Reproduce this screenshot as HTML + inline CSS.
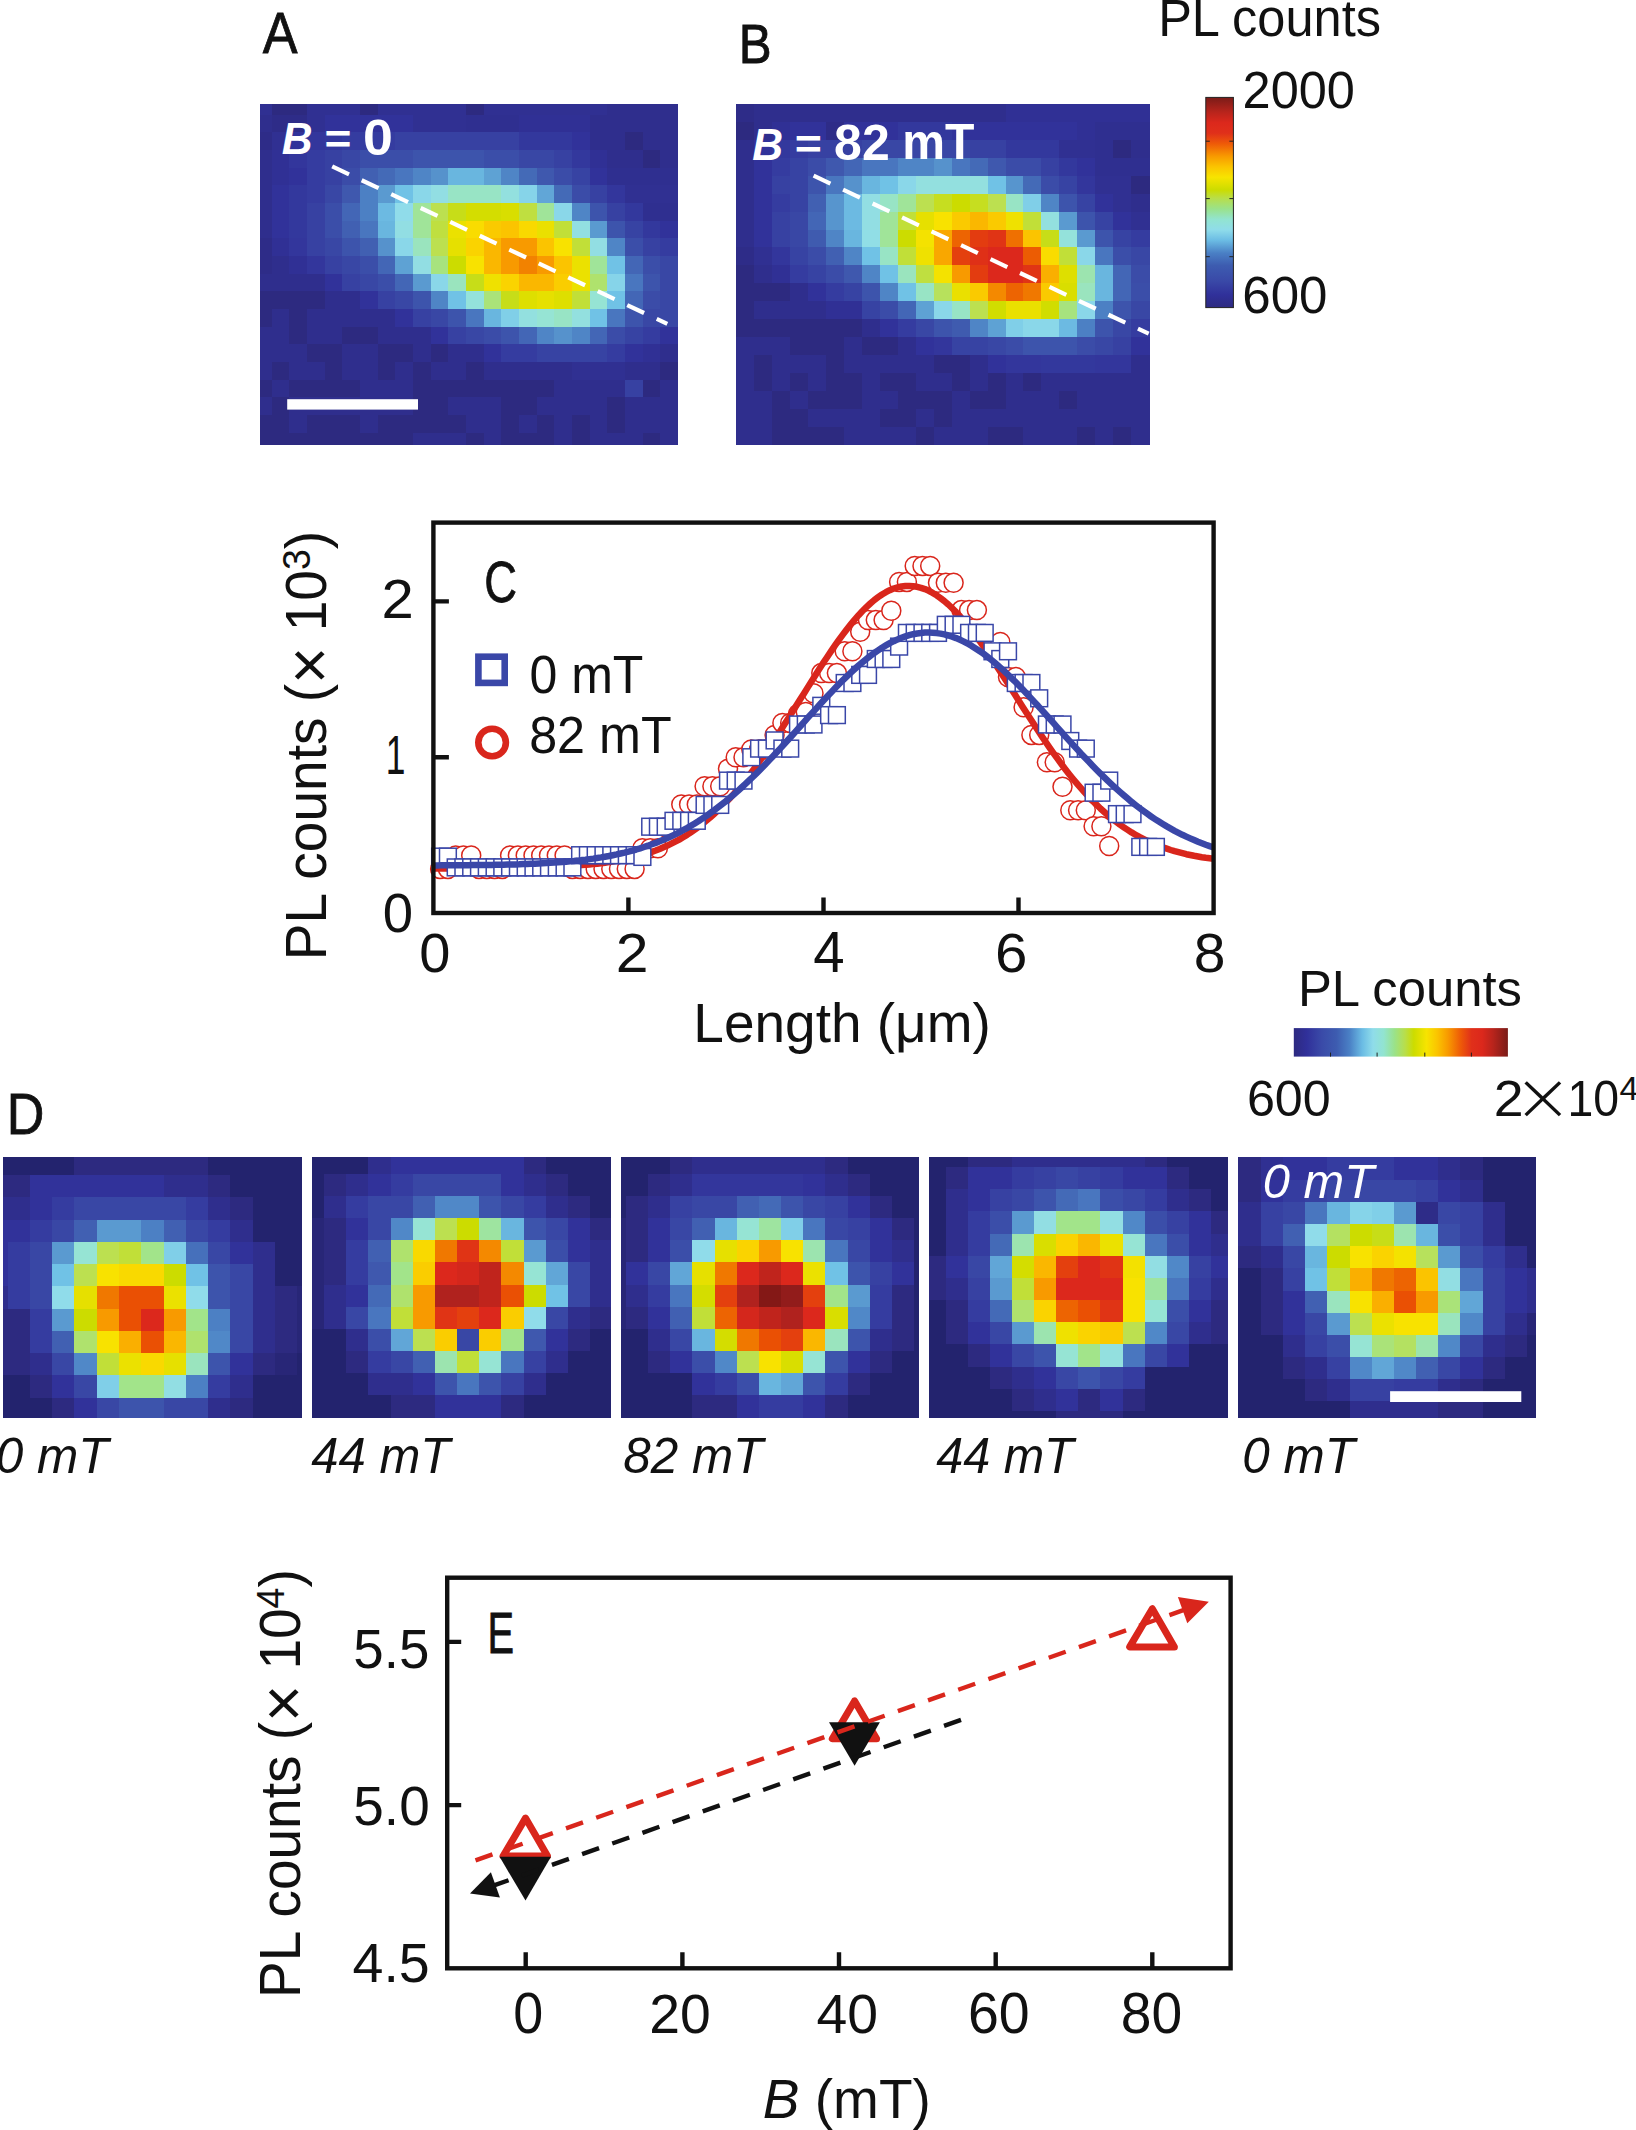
<!DOCTYPE html>
<html lang="en"><head><meta charset="utf-8"><title>Figure</title>
<style>html,body{margin:0;padding:0;background:#fff}svg{display:block}</style></head>
<body>
<svg width="1636" height="2130" viewBox="0 0 1636 2130" font-family="Liberation Sans, Arial, Helvetica, sans-serif">
<text transform="translate(262.80 52.92) scale(0.9228 1)" font-size="56.55" fill="#111111" stroke="#111111" stroke-width="0.8">A</text>
<text transform="translate(738.85 62.70) scale(0.8775 1)" font-size="56.23" fill="#111111" stroke="#111111" stroke-width="0.8">B</text>
<text transform="translate(6.63 1133.50) scale(0.9147 1)" font-size="56.96" fill="#111111" stroke="#111111" stroke-width="0.8">D</text>
<g shape-rendering="crispEdges">
<rect x="259.7" y="104.0" width="418.3" height="340.7" fill="#2d2a80"/>
<rect x="259.7" y="104.0" width="12.1" height="11.0" fill="#303092"/>
<rect x="271.5" y="104.0" width="35.6" height="11.0" fill="#2d2a80"/>
<rect x="306.8" y="104.0" width="53.3" height="11.0" fill="#303092"/>
<rect x="359.9" y="104.0" width="18.0" height="11.0" fill="#2d2a80"/>
<rect x="377.5" y="104.0" width="88.7" height="11.0" fill="#303092"/>
<rect x="465.9" y="104.0" width="18.0" height="11.0" fill="#2d2a80"/>
<rect x="483.5" y="104.0" width="124.0" height="11.0" fill="#303092"/>
<rect x="607.2" y="104.0" width="71.1" height="11.0" fill="#2f2e8d"/>
<rect x="259.7" y="114.7" width="12.1" height="18.0" fill="#2f2e8d"/>
<rect x="271.5" y="114.7" width="35.6" height="18.0" fill="#2e2c88"/>
<rect x="306.8" y="114.7" width="18.0" height="18.0" fill="#303092"/>
<rect x="324.5" y="114.7" width="88.7" height="18.0" fill="#31329a"/>
<rect x="412.9" y="114.7" width="53.3" height="18.0" fill="#303092"/>
<rect x="465.9" y="114.7" width="53.3" height="18.0" fill="#2f2f90"/>
<rect x="518.9" y="114.7" width="71.0" height="18.0" fill="#303095"/>
<rect x="589.6" y="114.7" width="88.7" height="18.0" fill="#2f2e8d"/>
<rect x="259.7" y="132.4" width="12.1" height="18.0" fill="#2e2c88"/>
<rect x="271.5" y="132.4" width="18.0" height="18.0" fill="#303092"/>
<rect x="289.2" y="132.4" width="18.0" height="18.0" fill="#31329a"/>
<rect x="306.8" y="132.4" width="18.0" height="18.0" fill="#33369c"/>
<rect x="324.5" y="132.4" width="18.0" height="18.0" fill="#33389d"/>
<rect x="342.2" y="132.4" width="53.3" height="18.0" fill="#353ca0"/>
<rect x="395.2" y="132.4" width="124.0" height="18.0" fill="#3741a2"/>
<rect x="518.9" y="132.4" width="53.3" height="18.0" fill="#33389d"/>
<rect x="571.9" y="132.4" width="18.0" height="18.0" fill="#31329a"/>
<rect x="589.6" y="132.4" width="35.6" height="18.0" fill="#2f2e8d"/>
<rect x="624.9" y="132.4" width="18.0" height="18.0" fill="#2d2a80"/>
<rect x="642.6" y="132.4" width="35.7" height="18.0" fill="#2f2e8d"/>
<rect x="259.7" y="150.0" width="12.1" height="18.0" fill="#2f2e8d"/>
<rect x="271.5" y="150.0" width="18.0" height="18.0" fill="#303095"/>
<rect x="289.2" y="150.0" width="18.0" height="18.0" fill="#33369c"/>
<rect x="306.8" y="150.0" width="18.0" height="18.0" fill="#353ca0"/>
<rect x="324.5" y="150.0" width="18.0" height="18.0" fill="#3741a2"/>
<rect x="342.2" y="150.0" width="18.0" height="18.0" fill="#3947a5"/>
<rect x="359.9" y="150.0" width="53.3" height="18.0" fill="#3b4ea9"/>
<rect x="412.9" y="150.0" width="71.0" height="18.0" fill="#3d54ac"/>
<rect x="483.5" y="150.0" width="35.6" height="18.0" fill="#3b4ea9"/>
<rect x="518.9" y="150.0" width="35.6" height="18.0" fill="#3947a5"/>
<rect x="554.2" y="150.0" width="18.0" height="18.0" fill="#3741a2"/>
<rect x="571.9" y="150.0" width="18.0" height="18.0" fill="#33389d"/>
<rect x="589.6" y="150.0" width="18.0" height="18.0" fill="#303095"/>
<rect x="607.2" y="150.0" width="35.6" height="18.0" fill="#2f2e8d"/>
<rect x="642.6" y="150.0" width="18.0" height="18.0" fill="#2d2a80"/>
<rect x="660.2" y="150.0" width="18.1" height="18.0" fill="#2f2e8d"/>
<rect x="259.7" y="167.7" width="12.1" height="18.0" fill="#2f2e8d"/>
<rect x="271.5" y="167.7" width="18.0" height="18.0" fill="#303095"/>
<rect x="289.2" y="167.7" width="18.0" height="18.0" fill="#31329a"/>
<rect x="306.8" y="167.7" width="18.0" height="18.0" fill="#353ca0"/>
<rect x="324.5" y="167.7" width="18.0" height="18.0" fill="#3741a2"/>
<rect x="342.2" y="167.7" width="18.0" height="18.0" fill="#3b4ca8"/>
<rect x="359.9" y="167.7" width="18.0" height="18.0" fill="#4160b2"/>
<rect x="377.5" y="167.7" width="18.0" height="18.0" fill="#446ab7"/>
<rect x="395.2" y="167.7" width="18.0" height="18.0" fill="#4976bf"/>
<rect x="412.9" y="167.7" width="18.0" height="18.0" fill="#4f85c6"/>
<rect x="430.5" y="167.7" width="18.0" height="18.0" fill="#5692cc"/>
<rect x="448.2" y="167.7" width="35.6" height="18.0" fill="#69b6df"/>
<rect x="483.5" y="167.7" width="18.0" height="18.0" fill="#5ea2d4"/>
<rect x="501.2" y="167.7" width="18.0" height="18.0" fill="#4f85c6"/>
<rect x="518.9" y="167.7" width="18.0" height="18.0" fill="#446ab7"/>
<rect x="536.6" y="167.7" width="18.0" height="18.0" fill="#3f58ae"/>
<rect x="554.2" y="167.7" width="18.0" height="18.0" fill="#3b4ca8"/>
<rect x="571.9" y="167.7" width="18.0" height="18.0" fill="#3743a3"/>
<rect x="589.6" y="167.7" width="18.0" height="18.0" fill="#31329a"/>
<rect x="607.2" y="167.7" width="71.1" height="18.0" fill="#2f2f90"/>
<rect x="259.7" y="185.4" width="12.1" height="18.0" fill="#2f2e8d"/>
<rect x="271.5" y="185.4" width="18.0" height="18.0" fill="#31329a"/>
<rect x="289.2" y="185.4" width="18.0" height="18.0" fill="#33389d"/>
<rect x="306.8" y="185.4" width="18.0" height="18.0" fill="#353ca0"/>
<rect x="324.5" y="185.4" width="18.0" height="18.0" fill="#3947a5"/>
<rect x="342.2" y="185.4" width="18.0" height="18.0" fill="#3f58ae"/>
<rect x="359.9" y="185.4" width="18.0" height="18.0" fill="#4c80c4"/>
<rect x="377.5" y="185.4" width="18.0" height="18.0" fill="#5a9ad0"/>
<rect x="395.2" y="185.4" width="18.0" height="18.0" fill="#70c2e6"/>
<rect x="412.9" y="185.4" width="18.0" height="18.0" fill="#8ad7e9"/>
<rect x="430.5" y="185.4" width="18.0" height="18.0" fill="#92dee3"/>
<rect x="448.2" y="185.4" width="53.3" height="18.0" fill="#98e4c5"/>
<rect x="501.2" y="185.4" width="18.0" height="18.0" fill="#93e0df"/>
<rect x="518.9" y="185.4" width="18.0" height="18.0" fill="#86d4e9"/>
<rect x="536.6" y="185.4" width="18.0" height="18.0" fill="#61a6d7"/>
<rect x="554.2" y="185.4" width="18.0" height="18.0" fill="#446ab7"/>
<rect x="571.9" y="185.4" width="18.0" height="18.0" fill="#3b4ca8"/>
<rect x="589.6" y="185.4" width="18.0" height="18.0" fill="#3741a2"/>
<rect x="607.2" y="185.4" width="18.0" height="18.0" fill="#33369c"/>
<rect x="624.9" y="185.4" width="53.4" height="18.0" fill="#303092"/>
<rect x="259.7" y="203.1" width="12.1" height="18.0" fill="#2f2e8d"/>
<rect x="271.5" y="203.1" width="18.0" height="18.0" fill="#31329a"/>
<rect x="289.2" y="203.1" width="18.0" height="18.0" fill="#33389d"/>
<rect x="306.8" y="203.1" width="18.0" height="18.0" fill="#3741a2"/>
<rect x="324.5" y="203.1" width="18.0" height="18.0" fill="#3b4ea9"/>
<rect x="342.2" y="203.1" width="18.0" height="18.0" fill="#4366b6"/>
<rect x="359.9" y="203.1" width="18.0" height="18.0" fill="#4c80c4"/>
<rect x="377.5" y="203.1" width="18.0" height="18.0" fill="#6cbae2"/>
<rect x="395.2" y="203.1" width="18.0" height="18.0" fill="#90dcea"/>
<rect x="412.9" y="203.1" width="18.0" height="18.0" fill="#a0e499"/>
<rect x="430.5" y="203.1" width="18.0" height="18.0" fill="#bce050"/>
<rect x="448.2" y="203.1" width="18.0" height="18.0" fill="#c7dd18"/>
<rect x="465.9" y="203.1" width="35.6" height="18.0" fill="#d4dd00"/>
<rect x="501.2" y="203.1" width="18.0" height="18.0" fill="#d9de00"/>
<rect x="518.9" y="203.1" width="18.0" height="18.0" fill="#bfdf40"/>
<rect x="536.6" y="203.1" width="18.0" height="18.0" fill="#a0e499"/>
<rect x="554.2" y="203.1" width="18.0" height="18.0" fill="#8ad7e9"/>
<rect x="571.9" y="203.1" width="18.0" height="18.0" fill="#4f85c6"/>
<rect x="589.6" y="203.1" width="18.0" height="18.0" fill="#3d54ac"/>
<rect x="607.2" y="203.1" width="18.0" height="18.0" fill="#3741a2"/>
<rect x="624.9" y="203.1" width="18.0" height="18.0" fill="#33389d"/>
<rect x="642.6" y="203.1" width="35.7" height="18.0" fill="#2f2f90"/>
<rect x="259.7" y="220.7" width="12.1" height="18.0" fill="#2f2e8d"/>
<rect x="271.5" y="220.7" width="18.0" height="18.0" fill="#31329a"/>
<rect x="289.2" y="220.7" width="18.0" height="18.0" fill="#33389d"/>
<rect x="306.8" y="220.7" width="18.0" height="18.0" fill="#3741a2"/>
<rect x="324.5" y="220.7" width="18.0" height="18.0" fill="#3b4ea9"/>
<rect x="342.2" y="220.7" width="18.0" height="18.0" fill="#4160b2"/>
<rect x="359.9" y="220.7" width="18.0" height="18.0" fill="#4976bf"/>
<rect x="377.5" y="220.7" width="18.0" height="18.0" fill="#69b6df"/>
<rect x="395.2" y="220.7" width="18.0" height="18.0" fill="#92dee3"/>
<rect x="412.9" y="220.7" width="18.0" height="18.0" fill="#a0e499"/>
<rect x="430.5" y="220.7" width="18.0" height="18.0" fill="#bfdf40"/>
<rect x="448.2" y="220.7" width="18.0" height="18.0" fill="#ebe100"/>
<rect x="465.9" y="220.7" width="18.0" height="18.0" fill="#f9dc00"/>
<rect x="483.5" y="220.7" width="18.0" height="18.0" fill="#faca00"/>
<rect x="501.2" y="220.7" width="18.0" height="18.0" fill="#fbc400"/>
<rect x="518.9" y="220.7" width="18.0" height="18.0" fill="#f9d900"/>
<rect x="536.6" y="220.7" width="18.0" height="18.0" fill="#eae000"/>
<rect x="554.2" y="220.7" width="18.0" height="18.0" fill="#c1df38"/>
<rect x="571.9" y="220.7" width="18.0" height="18.0" fill="#92dfe1"/>
<rect x="589.6" y="220.7" width="18.0" height="18.0" fill="#5a9ad0"/>
<rect x="607.2" y="220.7" width="18.0" height="18.0" fill="#3d54ac"/>
<rect x="624.9" y="220.7" width="18.0" height="18.0" fill="#3743a3"/>
<rect x="642.6" y="220.7" width="18.0" height="18.0" fill="#33389d"/>
<rect x="660.2" y="220.7" width="18.1" height="18.0" fill="#31329a"/>
<rect x="259.7" y="238.4" width="12.1" height="18.0" fill="#2e2c88"/>
<rect x="271.5" y="238.4" width="18.0" height="18.0" fill="#303095"/>
<rect x="289.2" y="238.4" width="18.0" height="18.0" fill="#33369c"/>
<rect x="306.8" y="238.4" width="18.0" height="18.0" fill="#3741a2"/>
<rect x="324.5" y="238.4" width="18.0" height="18.0" fill="#3947a5"/>
<rect x="342.2" y="238.4" width="18.0" height="18.0" fill="#3d54ac"/>
<rect x="359.9" y="238.4" width="18.0" height="18.0" fill="#4160b2"/>
<rect x="377.5" y="238.4" width="18.0" height="18.0" fill="#5692cc"/>
<rect x="395.2" y="238.4" width="18.0" height="18.0" fill="#8ad7e9"/>
<rect x="412.9" y="238.4" width="18.0" height="18.0" fill="#9ae4be"/>
<rect x="430.5" y="238.4" width="18.0" height="18.0" fill="#bce050"/>
<rect x="448.2" y="238.4" width="18.0" height="18.0" fill="#e6e000"/>
<rect x="465.9" y="238.4" width="18.0" height="18.0" fill="#fad300"/>
<rect x="483.5" y="238.4" width="18.0" height="18.0" fill="#fab700"/>
<rect x="501.2" y="238.4" width="35.6" height="18.0" fill="#f89a00"/>
<rect x="536.6" y="238.4" width="18.0" height="18.0" fill="#fbc400"/>
<rect x="554.2" y="238.4" width="18.0" height="18.0" fill="#f8e200"/>
<rect x="571.9" y="238.4" width="18.0" height="18.0" fill="#c1df38"/>
<rect x="589.6" y="238.4" width="18.0" height="18.0" fill="#92dee3"/>
<rect x="607.2" y="238.4" width="18.0" height="18.0" fill="#4f85c6"/>
<rect x="624.9" y="238.4" width="18.0" height="18.0" fill="#3b4ea9"/>
<rect x="642.6" y="238.4" width="18.0" height="18.0" fill="#3741a2"/>
<rect x="660.2" y="238.4" width="18.1" height="18.0" fill="#353ca0"/>
<rect x="259.7" y="256.1" width="12.1" height="18.0" fill="#2e2c88"/>
<rect x="271.5" y="256.1" width="18.0" height="18.0" fill="#2f2e8d"/>
<rect x="289.2" y="256.1" width="18.0" height="18.0" fill="#303095"/>
<rect x="306.8" y="256.1" width="18.0" height="18.0" fill="#33369c"/>
<rect x="324.5" y="256.1" width="18.0" height="18.0" fill="#3741a2"/>
<rect x="342.2" y="256.1" width="18.0" height="18.0" fill="#3947a5"/>
<rect x="359.9" y="256.1" width="18.0" height="18.0" fill="#3b4ea9"/>
<rect x="377.5" y="256.1" width="18.0" height="18.0" fill="#4366b6"/>
<rect x="395.2" y="256.1" width="18.0" height="18.0" fill="#5ea2d4"/>
<rect x="412.9" y="256.1" width="18.0" height="18.0" fill="#92dee3"/>
<rect x="430.5" y="256.1" width="18.0" height="18.0" fill="#a7e37e"/>
<rect x="448.2" y="256.1" width="18.0" height="18.0" fill="#ccdc00"/>
<rect x="465.9" y="256.1" width="18.0" height="18.0" fill="#f8e200"/>
<rect x="483.5" y="256.1" width="18.0" height="18.0" fill="#fab700"/>
<rect x="501.2" y="256.1" width="18.0" height="18.0" fill="#f89a00"/>
<rect x="518.9" y="256.1" width="18.0" height="18.0" fill="#f28200"/>
<rect x="536.6" y="256.1" width="18.0" height="18.0" fill="#f89a00"/>
<rect x="554.2" y="256.1" width="18.0" height="18.0" fill="#fbc400"/>
<rect x="571.9" y="256.1" width="18.0" height="18.0" fill="#ebe100"/>
<rect x="589.6" y="256.1" width="18.0" height="18.0" fill="#a0e499"/>
<rect x="607.2" y="256.1" width="18.0" height="18.0" fill="#70c2e6"/>
<rect x="624.9" y="256.1" width="18.0" height="18.0" fill="#4366b6"/>
<rect x="642.6" y="256.1" width="18.0" height="18.0" fill="#3b4ea9"/>
<rect x="660.2" y="256.1" width="18.1" height="18.0" fill="#3947a5"/>
<rect x="259.7" y="273.7" width="65.1" height="18.0" fill="#2f2e8d"/>
<rect x="324.5" y="273.7" width="18.0" height="18.0" fill="#31329a"/>
<rect x="342.2" y="273.7" width="18.0" height="18.0" fill="#3741a2"/>
<rect x="359.9" y="273.7" width="18.0" height="18.0" fill="#3947a5"/>
<rect x="377.5" y="273.7" width="18.0" height="18.0" fill="#3b4ea9"/>
<rect x="395.2" y="273.7" width="18.0" height="18.0" fill="#4366b6"/>
<rect x="412.9" y="273.7" width="18.0" height="18.0" fill="#5a9ad0"/>
<rect x="430.5" y="273.7" width="18.0" height="18.0" fill="#8ad7e9"/>
<rect x="448.2" y="273.7" width="18.0" height="18.0" fill="#9ae4be"/>
<rect x="465.9" y="273.7" width="18.0" height="18.0" fill="#c7dd18"/>
<rect x="483.5" y="273.7" width="18.0" height="18.0" fill="#efe100"/>
<rect x="501.2" y="273.7" width="18.0" height="18.0" fill="#fad300"/>
<rect x="518.9" y="273.7" width="35.6" height="18.0" fill="#fab700"/>
<rect x="554.2" y="273.7" width="18.0" height="18.0" fill="#facd00"/>
<rect x="571.9" y="273.7" width="18.0" height="18.0" fill="#ebe100"/>
<rect x="589.6" y="273.7" width="18.0" height="18.0" fill="#afe26d"/>
<rect x="607.2" y="273.7" width="18.0" height="18.0" fill="#86d4e9"/>
<rect x="624.9" y="273.7" width="18.0" height="18.0" fill="#4976bf"/>
<rect x="642.6" y="273.7" width="18.0" height="18.0" fill="#3d54ac"/>
<rect x="660.2" y="273.7" width="18.1" height="18.0" fill="#3947a5"/>
<rect x="259.7" y="291.4" width="65.1" height="18.0" fill="#2d2a80"/>
<rect x="324.5" y="291.4" width="35.6" height="18.0" fill="#2f2e8d"/>
<rect x="359.9" y="291.4" width="18.0" height="18.0" fill="#31329a"/>
<rect x="377.5" y="291.4" width="18.0" height="18.0" fill="#3741a2"/>
<rect x="395.2" y="291.4" width="18.0" height="18.0" fill="#3947a5"/>
<rect x="412.9" y="291.4" width="18.0" height="18.0" fill="#3d54ac"/>
<rect x="430.5" y="291.4" width="18.0" height="18.0" fill="#4f85c6"/>
<rect x="448.2" y="291.4" width="18.0" height="18.0" fill="#70c2e6"/>
<rect x="465.9" y="291.4" width="18.0" height="18.0" fill="#94e2db"/>
<rect x="483.5" y="291.4" width="18.0" height="18.0" fill="#aae379"/>
<rect x="501.2" y="291.4" width="18.0" height="18.0" fill="#c7dd18"/>
<rect x="518.9" y="291.4" width="18.0" height="18.0" fill="#dedf00"/>
<rect x="536.6" y="291.4" width="18.0" height="18.0" fill="#e6e000"/>
<rect x="554.2" y="291.4" width="18.0" height="18.0" fill="#dedf00"/>
<rect x="571.9" y="291.4" width="18.0" height="18.0" fill="#c1df38"/>
<rect x="589.6" y="291.4" width="18.0" height="18.0" fill="#96e4d4"/>
<rect x="607.2" y="291.4" width="18.0" height="18.0" fill="#70c2e6"/>
<rect x="624.9" y="291.4" width="18.0" height="18.0" fill="#4366b6"/>
<rect x="642.6" y="291.4" width="18.0" height="18.0" fill="#3b4ca8"/>
<rect x="660.2" y="291.4" width="18.1" height="18.0" fill="#3947a5"/>
<rect x="259.7" y="309.1" width="12.1" height="18.0" fill="#2d2a80"/>
<rect x="271.5" y="309.1" width="18.0" height="18.0" fill="#2f2e8d"/>
<rect x="289.2" y="309.1" width="18.0" height="18.0" fill="#2d2a80"/>
<rect x="306.8" y="309.1" width="88.7" height="18.0" fill="#2f2e8d"/>
<rect x="395.2" y="309.1" width="18.0" height="18.0" fill="#31329a"/>
<rect x="412.9" y="309.1" width="18.0" height="18.0" fill="#3741a2"/>
<rect x="430.5" y="309.1" width="18.0" height="18.0" fill="#3947a5"/>
<rect x="448.2" y="309.1" width="18.0" height="18.0" fill="#3d54ac"/>
<rect x="465.9" y="309.1" width="18.0" height="18.0" fill="#4976bf"/>
<rect x="483.5" y="309.1" width="18.0" height="18.0" fill="#69b6df"/>
<rect x="501.2" y="309.1" width="18.0" height="18.0" fill="#80cfe8"/>
<rect x="518.9" y="309.1" width="18.0" height="18.0" fill="#93e0df"/>
<rect x="536.6" y="309.1" width="18.0" height="18.0" fill="#96e4d4"/>
<rect x="554.2" y="309.1" width="18.0" height="18.0" fill="#98e4c5"/>
<rect x="571.9" y="309.1" width="18.0" height="18.0" fill="#93e0df"/>
<rect x="589.6" y="309.1" width="18.0" height="18.0" fill="#70c2e6"/>
<rect x="607.2" y="309.1" width="18.0" height="18.0" fill="#4976bf"/>
<rect x="624.9" y="309.1" width="18.0" height="18.0" fill="#3d54ac"/>
<rect x="642.6" y="309.1" width="35.7" height="18.0" fill="#3947a5"/>
<rect x="259.7" y="326.7" width="29.8" height="18.0" fill="#2f2e8d"/>
<rect x="289.2" y="326.7" width="18.0" height="18.0" fill="#2d2a80"/>
<rect x="306.8" y="326.7" width="35.6" height="18.0" fill="#2f2e8d"/>
<rect x="342.2" y="326.7" width="35.6" height="18.0" fill="#2d2a80"/>
<rect x="377.5" y="326.7" width="53.3" height="18.0" fill="#2f2e8d"/>
<rect x="430.5" y="326.7" width="18.0" height="18.0" fill="#31329a"/>
<rect x="448.2" y="326.7" width="18.0" height="18.0" fill="#3741a2"/>
<rect x="465.9" y="326.7" width="18.0" height="18.0" fill="#3947a5"/>
<rect x="483.5" y="326.7" width="18.0" height="18.0" fill="#3b4ca8"/>
<rect x="501.2" y="326.7" width="18.0" height="18.0" fill="#3d54ac"/>
<rect x="518.9" y="326.7" width="18.0" height="18.0" fill="#4366b6"/>
<rect x="536.6" y="326.7" width="18.0" height="18.0" fill="#4f85c6"/>
<rect x="554.2" y="326.7" width="18.0" height="18.0" fill="#5692cc"/>
<rect x="571.9" y="326.7" width="18.0" height="18.0" fill="#4f85c6"/>
<rect x="589.6" y="326.7" width="18.0" height="18.0" fill="#4366b6"/>
<rect x="607.2" y="326.7" width="18.0" height="18.0" fill="#3b4ca8"/>
<rect x="624.9" y="326.7" width="18.0" height="18.0" fill="#3743a3"/>
<rect x="642.6" y="326.7" width="18.0" height="18.0" fill="#353ca0"/>
<rect x="660.2" y="326.7" width="18.1" height="18.0" fill="#31329a"/>
<rect x="259.7" y="344.4" width="47.4" height="18.0" fill="#2f2e8d"/>
<rect x="306.8" y="344.4" width="35.6" height="18.0" fill="#2d2a80"/>
<rect x="342.2" y="344.4" width="35.6" height="18.0" fill="#2f2e8d"/>
<rect x="377.5" y="344.4" width="35.6" height="18.0" fill="#2d2a80"/>
<rect x="412.9" y="344.4" width="18.0" height="18.0" fill="#2f2e8d"/>
<rect x="430.5" y="344.4" width="18.0" height="18.0" fill="#2d2a80"/>
<rect x="448.2" y="344.4" width="35.6" height="18.0" fill="#2f2e8d"/>
<rect x="483.5" y="344.4" width="18.0" height="18.0" fill="#31329a"/>
<rect x="501.2" y="344.4" width="35.6" height="18.0" fill="#353ca0"/>
<rect x="536.6" y="344.4" width="71.0" height="18.0" fill="#3743a3"/>
<rect x="607.2" y="344.4" width="18.0" height="18.0" fill="#353ca0"/>
<rect x="624.9" y="344.4" width="18.0" height="18.0" fill="#31329a"/>
<rect x="642.6" y="344.4" width="18.0" height="18.0" fill="#303095"/>
<rect x="660.2" y="344.4" width="18.1" height="18.0" fill="#2f2e8d"/>
<rect x="259.7" y="362.1" width="12.1" height="18.0" fill="#2f2e8d"/>
<rect x="271.5" y="362.1" width="18.0" height="18.0" fill="#2d2a80"/>
<rect x="289.2" y="362.1" width="35.6" height="18.0" fill="#2f2e8d"/>
<rect x="324.5" y="362.1" width="18.0" height="18.0" fill="#2d2a80"/>
<rect x="342.2" y="362.1" width="35.6" height="18.0" fill="#2f2e8d"/>
<rect x="377.5" y="362.1" width="18.0" height="18.0" fill="#2d2a80"/>
<rect x="395.2" y="362.1" width="18.0" height="18.0" fill="#2f2e8d"/>
<rect x="412.9" y="362.1" width="18.0" height="18.0" fill="#2d2a80"/>
<rect x="430.5" y="362.1" width="35.6" height="18.0" fill="#2f2e8d"/>
<rect x="465.9" y="362.1" width="18.0" height="18.0" fill="#2d2a80"/>
<rect x="483.5" y="362.1" width="88.6" height="18.0" fill="#2f2e8d"/>
<rect x="571.9" y="362.1" width="53.3" height="18.0" fill="#303092"/>
<rect x="624.9" y="362.1" width="35.6" height="18.0" fill="#2f2e8d"/>
<rect x="660.2" y="362.1" width="18.1" height="18.0" fill="#2d2a80"/>
<rect x="259.7" y="379.8" width="12.1" height="18.0" fill="#2d2a80"/>
<rect x="271.5" y="379.8" width="18.0" height="18.0" fill="#2f2e8d"/>
<rect x="289.2" y="379.8" width="71.0" height="18.0" fill="#2d2a80"/>
<rect x="359.9" y="379.8" width="53.3" height="18.0" fill="#2f2e8d"/>
<rect x="412.9" y="379.8" width="141.7" height="18.0" fill="#2d2a80"/>
<rect x="554.2" y="379.8" width="71.0" height="18.0" fill="#2f2e8d"/>
<rect x="624.9" y="379.8" width="18.0" height="18.0" fill="#3741a2"/>
<rect x="642.6" y="379.8" width="18.0" height="18.0" fill="#2d2a80"/>
<rect x="660.2" y="379.8" width="18.1" height="18.0" fill="#2f2e8d"/>
<rect x="259.7" y="397.4" width="12.1" height="18.0" fill="#2f2e8d"/>
<rect x="271.5" y="397.4" width="18.0" height="18.0" fill="#2d2a80"/>
<rect x="289.2" y="397.4" width="124.0" height="18.0" fill="#2f2e8d"/>
<rect x="412.9" y="397.4" width="35.6" height="18.0" fill="#2d2a80"/>
<rect x="448.2" y="397.4" width="53.3" height="18.0" fill="#2f2e8d"/>
<rect x="501.2" y="397.4" width="35.6" height="18.0" fill="#2d2a80"/>
<rect x="536.6" y="397.4" width="71.0" height="18.0" fill="#2f2e8d"/>
<rect x="607.2" y="397.4" width="18.0" height="18.0" fill="#2d2a80"/>
<rect x="624.9" y="397.4" width="53.4" height="18.0" fill="#2f2e8d"/>
<rect x="259.7" y="415.1" width="29.8" height="18.0" fill="#2d2a80"/>
<rect x="289.2" y="415.1" width="18.0" height="18.0" fill="#2f2e8d"/>
<rect x="306.8" y="415.1" width="53.3" height="18.0" fill="#2d2a80"/>
<rect x="359.9" y="415.1" width="18.0" height="18.0" fill="#2f2e8d"/>
<rect x="377.5" y="415.1" width="88.7" height="18.0" fill="#2d2a80"/>
<rect x="465.9" y="415.1" width="35.6" height="18.0" fill="#2f2e8d"/>
<rect x="501.2" y="415.1" width="18.0" height="18.0" fill="#2d2a80"/>
<rect x="518.9" y="415.1" width="18.0" height="18.0" fill="#2f2e8d"/>
<rect x="536.6" y="415.1" width="18.0" height="18.0" fill="#2d2a80"/>
<rect x="554.2" y="415.1" width="18.0" height="18.0" fill="#2f2e8d"/>
<rect x="571.9" y="415.1" width="18.0" height="18.0" fill="#2d2a80"/>
<rect x="589.6" y="415.1" width="18.0" height="18.0" fill="#2f2e8d"/>
<rect x="607.2" y="415.1" width="18.0" height="18.0" fill="#2d2a80"/>
<rect x="624.9" y="415.1" width="53.4" height="18.0" fill="#2f2e8d"/>
<rect x="259.7" y="432.8" width="153.5" height="12.2" fill="#2d2a80"/>
<rect x="412.9" y="432.8" width="53.3" height="12.2" fill="#2f2e8d"/>
<rect x="465.9" y="432.8" width="18.0" height="12.2" fill="#2d2a80"/>
<rect x="483.5" y="432.8" width="18.0" height="12.2" fill="#2f2e8d"/>
<rect x="501.2" y="432.8" width="53.3" height="12.2" fill="#2d2a80"/>
<rect x="554.2" y="432.8" width="18.0" height="12.2" fill="#2f2e8d"/>
<rect x="571.9" y="432.8" width="18.0" height="12.2" fill="#2d2a80"/>
<rect x="589.6" y="432.8" width="53.3" height="12.2" fill="#2f2e8d"/>
<rect x="642.6" y="432.8" width="18.0" height="12.2" fill="#2d2a80"/>
<rect x="660.2" y="432.8" width="18.1" height="12.2" fill="#2f2e8d"/>
</g>
<g shape-rendering="crispEdges">
<rect x="735.6" y="104.0" width="413.9" height="340.7" fill="#2d2a80"/>
<rect x="735.6" y="104.0" width="18.3" height="18.2" fill="#2e2c88"/>
<rect x="753.6" y="104.0" width="252.2" height="18.2" fill="#2f2e8d"/>
<rect x="1005.5" y="104.0" width="144.3" height="18.2" fill="#303095"/>
<rect x="735.6" y="121.9" width="18.3" height="18.2" fill="#2d2a80"/>
<rect x="753.6" y="121.9" width="18.3" height="18.2" fill="#2f2e8d"/>
<rect x="771.6" y="121.9" width="18.3" height="18.2" fill="#303095"/>
<rect x="789.6" y="121.9" width="36.3" height="18.2" fill="#31329a"/>
<rect x="825.6" y="121.9" width="18.3" height="18.2" fill="#2e2c88"/>
<rect x="843.5" y="121.9" width="54.3" height="18.2" fill="#31329a"/>
<rect x="897.5" y="121.9" width="54.3" height="18.2" fill="#33389d"/>
<rect x="951.5" y="121.9" width="126.2" height="18.2" fill="#31329a"/>
<rect x="1077.4" y="121.9" width="18.3" height="18.2" fill="#303095"/>
<rect x="1095.4" y="121.9" width="54.4" height="18.2" fill="#2f2f90"/>
<rect x="735.6" y="139.9" width="18.3" height="18.2" fill="#2f2e8d"/>
<rect x="753.6" y="139.9" width="18.3" height="18.2" fill="#31329a"/>
<rect x="771.6" y="139.9" width="18.3" height="18.2" fill="#33389d"/>
<rect x="789.6" y="139.9" width="18.3" height="18.2" fill="#353ca0"/>
<rect x="807.6" y="139.9" width="54.3" height="18.2" fill="#3741a2"/>
<rect x="861.5" y="139.9" width="108.2" height="18.2" fill="#3947a5"/>
<rect x="969.5" y="139.9" width="36.3" height="18.2" fill="#3741a2"/>
<rect x="1005.5" y="139.9" width="54.3" height="18.2" fill="#33389d"/>
<rect x="1059.4" y="139.9" width="36.3" height="18.2" fill="#303092"/>
<rect x="1095.4" y="139.9" width="18.3" height="18.2" fill="#2f2f90"/>
<rect x="1113.4" y="139.9" width="18.3" height="18.2" fill="#2d2a80"/>
<rect x="1131.4" y="139.9" width="18.4" height="18.2" fill="#2f2e8d"/>
<rect x="735.6" y="157.8" width="18.3" height="18.2" fill="#2f2e8d"/>
<rect x="753.6" y="157.8" width="18.3" height="18.2" fill="#31329a"/>
<rect x="771.6" y="157.8" width="18.3" height="18.2" fill="#353ca0"/>
<rect x="789.6" y="157.8" width="18.3" height="18.2" fill="#3743a3"/>
<rect x="807.6" y="157.8" width="18.3" height="18.2" fill="#3b4ca8"/>
<rect x="825.6" y="157.8" width="18.3" height="18.2" fill="#3f58ae"/>
<rect x="843.5" y="157.8" width="18.3" height="18.2" fill="#4366b6"/>
<rect x="861.5" y="157.8" width="36.3" height="18.2" fill="#4976bf"/>
<rect x="897.5" y="157.8" width="36.3" height="18.2" fill="#4f85c6"/>
<rect x="933.5" y="157.8" width="18.3" height="18.2" fill="#5692cc"/>
<rect x="951.5" y="157.8" width="18.3" height="18.2" fill="#4976bf"/>
<rect x="969.5" y="157.8" width="18.3" height="18.2" fill="#446ab7"/>
<rect x="987.5" y="157.8" width="18.3" height="18.2" fill="#3f58ae"/>
<rect x="1005.5" y="157.8" width="36.3" height="18.2" fill="#3b4ca8"/>
<rect x="1041.4" y="157.8" width="18.3" height="18.2" fill="#3741a2"/>
<rect x="1059.4" y="157.8" width="18.3" height="18.2" fill="#33389d"/>
<rect x="1077.4" y="157.8" width="18.3" height="18.2" fill="#31329a"/>
<rect x="1095.4" y="157.8" width="54.4" height="18.2" fill="#2f2f90"/>
<rect x="735.6" y="175.7" width="18.3" height="18.2" fill="#2f2e8d"/>
<rect x="753.6" y="175.7" width="18.3" height="18.2" fill="#31329a"/>
<rect x="771.6" y="175.7" width="18.3" height="18.2" fill="#3741a2"/>
<rect x="789.6" y="175.7" width="18.3" height="18.2" fill="#3743a3"/>
<rect x="807.6" y="175.7" width="18.3" height="18.2" fill="#3d54ac"/>
<rect x="825.6" y="175.7" width="18.3" height="18.2" fill="#4976bf"/>
<rect x="843.5" y="175.7" width="18.3" height="18.2" fill="#5692cc"/>
<rect x="861.5" y="175.7" width="18.3" height="18.2" fill="#69b6df"/>
<rect x="879.5" y="175.7" width="18.3" height="18.2" fill="#70c2e6"/>
<rect x="897.5" y="175.7" width="18.3" height="18.2" fill="#8ad7e9"/>
<rect x="915.5" y="175.7" width="72.3" height="18.2" fill="#93e0df"/>
<rect x="987.5" y="175.7" width="18.3" height="18.2" fill="#70c2e6"/>
<rect x="1005.5" y="175.7" width="18.3" height="18.2" fill="#5795ce"/>
<rect x="1023.4" y="175.7" width="18.3" height="18.2" fill="#446ab7"/>
<rect x="1041.4" y="175.7" width="18.3" height="18.2" fill="#3b4ca8"/>
<rect x="1059.4" y="175.7" width="18.3" height="18.2" fill="#3743a3"/>
<rect x="1077.4" y="175.7" width="18.3" height="18.2" fill="#33369c"/>
<rect x="1095.4" y="175.7" width="36.3" height="18.2" fill="#303092"/>
<rect x="1131.4" y="175.7" width="18.4" height="18.2" fill="#2d2a80"/>
<rect x="735.6" y="193.7" width="18.3" height="18.2" fill="#2f2e8d"/>
<rect x="753.6" y="193.7" width="18.3" height="18.2" fill="#31329a"/>
<rect x="771.6" y="193.7" width="18.3" height="18.2" fill="#353ca0"/>
<rect x="789.6" y="193.7" width="18.3" height="18.2" fill="#3743a3"/>
<rect x="807.6" y="193.7" width="18.3" height="18.2" fill="#4160b2"/>
<rect x="825.6" y="193.7" width="18.3" height="18.2" fill="#5795ce"/>
<rect x="843.5" y="193.7" width="18.3" height="18.2" fill="#6cbae2"/>
<rect x="861.5" y="193.7" width="18.3" height="18.2" fill="#92dee3"/>
<rect x="879.5" y="193.7" width="18.3" height="18.2" fill="#98e4c5"/>
<rect x="897.5" y="193.7" width="18.3" height="18.2" fill="#a0e499"/>
<rect x="915.5" y="193.7" width="18.3" height="18.2" fill="#bce050"/>
<rect x="933.5" y="193.7" width="18.3" height="18.2" fill="#c6de20"/>
<rect x="951.5" y="193.7" width="18.3" height="18.2" fill="#ccdc00"/>
<rect x="969.5" y="193.7" width="18.3" height="18.2" fill="#c6de20"/>
<rect x="987.5" y="193.7" width="18.3" height="18.2" fill="#bce050"/>
<rect x="1005.5" y="193.7" width="18.3" height="18.2" fill="#98e4c5"/>
<rect x="1023.4" y="193.7" width="18.3" height="18.2" fill="#80cfe8"/>
<rect x="1041.4" y="193.7" width="18.3" height="18.2" fill="#4f85c6"/>
<rect x="1059.4" y="193.7" width="18.3" height="18.2" fill="#3d54ac"/>
<rect x="1077.4" y="193.7" width="18.3" height="18.2" fill="#3743a3"/>
<rect x="1095.4" y="193.7" width="18.3" height="18.2" fill="#31329a"/>
<rect x="1113.4" y="193.7" width="18.3" height="18.2" fill="#303092"/>
<rect x="1131.4" y="193.7" width="18.4" height="18.2" fill="#2f2e8d"/>
<rect x="735.6" y="211.6" width="18.3" height="18.2" fill="#2f2e8d"/>
<rect x="753.6" y="211.6" width="18.3" height="18.2" fill="#31329a"/>
<rect x="771.6" y="211.6" width="18.3" height="18.2" fill="#3741a2"/>
<rect x="789.6" y="211.6" width="18.3" height="18.2" fill="#3947a5"/>
<rect x="807.6" y="211.6" width="18.3" height="18.2" fill="#4366b6"/>
<rect x="825.6" y="211.6" width="18.3" height="18.2" fill="#5795ce"/>
<rect x="843.5" y="211.6" width="18.3" height="18.2" fill="#6cbae2"/>
<rect x="861.5" y="211.6" width="18.3" height="18.2" fill="#92dee3"/>
<rect x="879.5" y="211.6" width="18.3" height="18.2" fill="#a0e499"/>
<rect x="897.5" y="211.6" width="18.3" height="18.2" fill="#c1df38"/>
<rect x="915.5" y="211.6" width="18.3" height="18.2" fill="#e6e000"/>
<rect x="933.5" y="211.6" width="18.3" height="18.2" fill="#f8e200"/>
<rect x="951.5" y="211.6" width="18.3" height="18.2" fill="#faca00"/>
<rect x="969.5" y="211.6" width="18.3" height="18.2" fill="#fab700"/>
<rect x="987.5" y="211.6" width="18.3" height="18.2" fill="#faca00"/>
<rect x="1005.5" y="211.6" width="18.3" height="18.2" fill="#efe100"/>
<rect x="1023.4" y="211.6" width="18.3" height="18.2" fill="#c1df38"/>
<rect x="1041.4" y="211.6" width="18.3" height="18.2" fill="#93e0df"/>
<rect x="1059.4" y="211.6" width="18.3" height="18.2" fill="#5a9ad0"/>
<rect x="1077.4" y="211.6" width="18.3" height="18.2" fill="#3d54ac"/>
<rect x="1095.4" y="211.6" width="18.3" height="18.2" fill="#3743a3"/>
<rect x="1113.4" y="211.6" width="18.3" height="18.2" fill="#31329a"/>
<rect x="1131.4" y="211.6" width="18.4" height="18.2" fill="#303092"/>
<rect x="735.6" y="229.5" width="18.3" height="18.2" fill="#2f2e8d"/>
<rect x="753.6" y="229.5" width="18.3" height="18.2" fill="#31329a"/>
<rect x="771.6" y="229.5" width="18.3" height="18.2" fill="#3741a2"/>
<rect x="789.6" y="229.5" width="18.3" height="18.2" fill="#3947a5"/>
<rect x="807.6" y="229.5" width="18.3" height="18.2" fill="#3f5baf"/>
<rect x="825.6" y="229.5" width="18.3" height="18.2" fill="#4f85c6"/>
<rect x="843.5" y="229.5" width="18.3" height="18.2" fill="#69b6df"/>
<rect x="861.5" y="229.5" width="18.3" height="18.2" fill="#91dee6"/>
<rect x="879.5" y="229.5" width="18.3" height="18.2" fill="#a0e499"/>
<rect x="897.5" y="229.5" width="18.3" height="18.2" fill="#ccdc00"/>
<rect x="915.5" y="229.5" width="18.3" height="18.2" fill="#f4e200"/>
<rect x="933.5" y="229.5" width="18.3" height="18.2" fill="#f9a700"/>
<rect x="951.5" y="229.5" width="18.3" height="18.2" fill="#ed6402"/>
<rect x="969.5" y="229.5" width="18.3" height="18.2" fill="#e33c10"/>
<rect x="987.5" y="229.5" width="18.3" height="18.2" fill="#e03415"/>
<rect x="1005.5" y="229.5" width="18.3" height="18.2" fill="#ef7001"/>
<rect x="1023.4" y="229.5" width="18.3" height="18.2" fill="#fbc400"/>
<rect x="1041.4" y="229.5" width="18.3" height="18.2" fill="#c7dd18"/>
<rect x="1059.4" y="229.5" width="18.3" height="18.2" fill="#94e2db"/>
<rect x="1077.4" y="229.5" width="18.3" height="18.2" fill="#5a9ad0"/>
<rect x="1095.4" y="229.5" width="18.3" height="18.2" fill="#3d54ac"/>
<rect x="1113.4" y="229.5" width="18.3" height="18.2" fill="#3743a3"/>
<rect x="1131.4" y="229.5" width="18.4" height="18.2" fill="#353ca0"/>
<rect x="735.6" y="247.4" width="18.3" height="18.2" fill="#2e2c88"/>
<rect x="753.6" y="247.4" width="18.3" height="18.2" fill="#303092"/>
<rect x="771.6" y="247.4" width="18.3" height="18.2" fill="#33369c"/>
<rect x="789.6" y="247.4" width="18.3" height="18.2" fill="#3743a3"/>
<rect x="807.6" y="247.4" width="18.3" height="18.2" fill="#3b4ca8"/>
<rect x="825.6" y="247.4" width="18.3" height="18.2" fill="#4160b2"/>
<rect x="843.5" y="247.4" width="18.3" height="18.2" fill="#4f85c6"/>
<rect x="861.5" y="247.4" width="18.3" height="18.2" fill="#70c2e6"/>
<rect x="879.5" y="247.4" width="18.3" height="18.2" fill="#98e4c5"/>
<rect x="897.5" y="247.4" width="18.3" height="18.2" fill="#c1df38"/>
<rect x="915.5" y="247.4" width="18.3" height="18.2" fill="#efe100"/>
<rect x="933.5" y="247.4" width="18.3" height="18.2" fill="#f9a700"/>
<rect x="951.5" y="247.4" width="18.3" height="18.2" fill="#e4400e"/>
<rect x="969.5" y="247.4" width="18.3" height="18.2" fill="#df3017"/>
<rect x="987.5" y="247.4" width="36.3" height="18.2" fill="#dc281c"/>
<rect x="1023.4" y="247.4" width="18.3" height="18.2" fill="#ec5c03"/>
<rect x="1041.4" y="247.4" width="18.3" height="18.2" fill="#f9dc00"/>
<rect x="1059.4" y="247.4" width="18.3" height="18.2" fill="#c1df38"/>
<rect x="1077.4" y="247.4" width="18.3" height="18.2" fill="#8ad7e9"/>
<rect x="1095.4" y="247.4" width="18.3" height="18.2" fill="#4976bf"/>
<rect x="1113.4" y="247.4" width="18.3" height="18.2" fill="#3b4ea9"/>
<rect x="1131.4" y="247.4" width="18.4" height="18.2" fill="#3947a5"/>
<rect x="735.6" y="265.4" width="18.3" height="18.2" fill="#2d2a80"/>
<rect x="753.6" y="265.4" width="18.3" height="18.2" fill="#2f2e8d"/>
<rect x="771.6" y="265.4" width="18.3" height="18.2" fill="#303095"/>
<rect x="789.6" y="265.4" width="18.3" height="18.2" fill="#353ca0"/>
<rect x="807.6" y="265.4" width="18.3" height="18.2" fill="#3743a3"/>
<rect x="825.6" y="265.4" width="18.3" height="18.2" fill="#3b4ca8"/>
<rect x="843.5" y="265.4" width="18.3" height="18.2" fill="#3f58ae"/>
<rect x="861.5" y="265.4" width="18.3" height="18.2" fill="#4f85c6"/>
<rect x="879.5" y="265.4" width="18.3" height="18.2" fill="#70c2e6"/>
<rect x="897.5" y="265.4" width="18.3" height="18.2" fill="#9ae4be"/>
<rect x="915.5" y="265.4" width="18.3" height="18.2" fill="#bfdf40"/>
<rect x="933.5" y="265.4" width="18.3" height="18.2" fill="#f4e200"/>
<rect x="951.5" y="265.4" width="18.3" height="18.2" fill="#f89a00"/>
<rect x="969.5" y="265.4" width="18.3" height="18.2" fill="#e33c10"/>
<rect x="987.5" y="265.4" width="36.3" height="18.2" fill="#dc281c"/>
<rect x="1023.4" y="265.4" width="18.3" height="18.2" fill="#e03415"/>
<rect x="1041.4" y="265.4" width="18.3" height="18.2" fill="#faaf00"/>
<rect x="1059.4" y="265.4" width="18.3" height="18.2" fill="#dedf00"/>
<rect x="1077.4" y="265.4" width="18.3" height="18.2" fill="#9ce4af"/>
<rect x="1095.4" y="265.4" width="18.3" height="18.2" fill="#69b6df"/>
<rect x="1113.4" y="265.4" width="18.3" height="18.2" fill="#4366b6"/>
<rect x="1131.4" y="265.4" width="18.4" height="18.2" fill="#3b4ca8"/>
<rect x="735.6" y="283.3" width="54.3" height="18.2" fill="#2d2a80"/>
<rect x="789.6" y="283.3" width="18.3" height="18.2" fill="#2f2e8d"/>
<rect x="807.6" y="283.3" width="18.3" height="18.2" fill="#31329a"/>
<rect x="825.6" y="283.3" width="18.3" height="18.2" fill="#353ca0"/>
<rect x="843.5" y="283.3" width="18.3" height="18.2" fill="#3743a3"/>
<rect x="861.5" y="283.3" width="18.3" height="18.2" fill="#3d54ac"/>
<rect x="879.5" y="283.3" width="18.3" height="18.2" fill="#4f85c6"/>
<rect x="897.5" y="283.3" width="18.3" height="18.2" fill="#70c2e6"/>
<rect x="915.5" y="283.3" width="18.3" height="18.2" fill="#98e4c5"/>
<rect x="933.5" y="283.3" width="18.3" height="18.2" fill="#b7e15c"/>
<rect x="951.5" y="283.3" width="18.3" height="18.2" fill="#eae000"/>
<rect x="969.5" y="283.3" width="18.3" height="18.2" fill="#faca00"/>
<rect x="987.5" y="283.3" width="18.3" height="18.2" fill="#f48900"/>
<rect x="1005.5" y="283.3" width="18.3" height="18.2" fill="#ed6402"/>
<rect x="1023.4" y="283.3" width="18.3" height="18.2" fill="#f07800"/>
<rect x="1041.4" y="283.3" width="18.3" height="18.2" fill="#faca00"/>
<rect x="1059.4" y="283.3" width="18.3" height="18.2" fill="#d9de00"/>
<rect x="1077.4" y="283.3" width="18.3" height="18.2" fill="#9ae4be"/>
<rect x="1095.4" y="283.3" width="18.3" height="18.2" fill="#69b6df"/>
<rect x="1113.4" y="283.3" width="18.3" height="18.2" fill="#4366b6"/>
<rect x="1131.4" y="283.3" width="18.4" height="18.2" fill="#3b4ea9"/>
<rect x="735.6" y="301.2" width="18.3" height="18.2" fill="#2d2a80"/>
<rect x="753.6" y="301.2" width="72.3" height="18.2" fill="#2f2e8d"/>
<rect x="825.6" y="301.2" width="36.3" height="18.2" fill="#303095"/>
<rect x="861.5" y="301.2" width="18.3" height="18.2" fill="#3743a3"/>
<rect x="879.5" y="301.2" width="18.3" height="18.2" fill="#3b4ca8"/>
<rect x="897.5" y="301.2" width="18.3" height="18.2" fill="#4366b6"/>
<rect x="915.5" y="301.2" width="18.3" height="18.2" fill="#5ea2d4"/>
<rect x="933.5" y="301.2" width="18.3" height="18.2" fill="#8ad7e9"/>
<rect x="951.5" y="301.2" width="18.3" height="18.2" fill="#98e4c5"/>
<rect x="969.5" y="301.2" width="18.3" height="18.2" fill="#bce050"/>
<rect x="987.5" y="301.2" width="18.3" height="18.2" fill="#d1dd00"/>
<rect x="1005.5" y="301.2" width="36.3" height="18.2" fill="#eae000"/>
<rect x="1041.4" y="301.2" width="18.3" height="18.2" fill="#d1dd00"/>
<rect x="1059.4" y="301.2" width="18.3" height="18.2" fill="#a7e37e"/>
<rect x="1077.4" y="301.2" width="18.3" height="18.2" fill="#8ad7e9"/>
<rect x="1095.4" y="301.2" width="18.3" height="18.2" fill="#4c80c4"/>
<rect x="1113.4" y="301.2" width="18.3" height="18.2" fill="#3d54ac"/>
<rect x="1131.4" y="301.2" width="18.4" height="18.2" fill="#3947a5"/>
<rect x="735.6" y="319.2" width="126.2" height="18.2" fill="#2d2a80"/>
<rect x="861.5" y="319.2" width="18.3" height="18.2" fill="#2f2e8d"/>
<rect x="879.5" y="319.2" width="18.3" height="18.2" fill="#31329a"/>
<rect x="897.5" y="319.2" width="18.3" height="18.2" fill="#353ca0"/>
<rect x="915.5" y="319.2" width="18.3" height="18.2" fill="#3947a5"/>
<rect x="933.5" y="319.2" width="18.3" height="18.2" fill="#3d54ac"/>
<rect x="951.5" y="319.2" width="18.3" height="18.2" fill="#3f5baf"/>
<rect x="969.5" y="319.2" width="18.3" height="18.2" fill="#4f85c6"/>
<rect x="987.5" y="319.2" width="18.3" height="18.2" fill="#5ea2d4"/>
<rect x="1005.5" y="319.2" width="18.3" height="18.2" fill="#80cfe8"/>
<rect x="1023.4" y="319.2" width="36.3" height="18.2" fill="#8ad7e9"/>
<rect x="1059.4" y="319.2" width="18.3" height="18.2" fill="#6cbae2"/>
<rect x="1077.4" y="319.2" width="18.3" height="18.2" fill="#4c80c4"/>
<rect x="1095.4" y="319.2" width="18.3" height="18.2" fill="#3d54ac"/>
<rect x="1113.4" y="319.2" width="18.3" height="18.2" fill="#3947a5"/>
<rect x="1131.4" y="319.2" width="18.4" height="18.2" fill="#353ca0"/>
<rect x="735.6" y="337.1" width="54.3" height="18.2" fill="#2f2e8d"/>
<rect x="789.6" y="337.1" width="54.3" height="18.2" fill="#2d2a80"/>
<rect x="843.5" y="337.1" width="18.3" height="18.2" fill="#2f2e8d"/>
<rect x="861.5" y="337.1" width="36.3" height="18.2" fill="#2d2a80"/>
<rect x="897.5" y="337.1" width="18.3" height="18.2" fill="#2f2e8d"/>
<rect x="915.5" y="337.1" width="18.3" height="18.2" fill="#31329a"/>
<rect x="933.5" y="337.1" width="18.3" height="18.2" fill="#33369c"/>
<rect x="951.5" y="337.1" width="36.3" height="18.2" fill="#3743a3"/>
<rect x="987.5" y="337.1" width="18.3" height="18.2" fill="#3947a5"/>
<rect x="1005.5" y="337.1" width="18.3" height="18.2" fill="#3b4ca8"/>
<rect x="1023.4" y="337.1" width="54.3" height="18.2" fill="#3d54ac"/>
<rect x="1077.4" y="337.1" width="18.3" height="18.2" fill="#3b4ca8"/>
<rect x="1095.4" y="337.1" width="18.3" height="18.2" fill="#3947a5"/>
<rect x="1113.4" y="337.1" width="18.3" height="18.2" fill="#3741a2"/>
<rect x="1131.4" y="337.1" width="18.4" height="18.2" fill="#31329a"/>
<rect x="735.6" y="355.0" width="18.3" height="18.2" fill="#2f2e8d"/>
<rect x="753.6" y="355.0" width="18.3" height="18.2" fill="#2d2a80"/>
<rect x="771.6" y="355.0" width="54.3" height="18.2" fill="#2f2e8d"/>
<rect x="825.6" y="355.0" width="18.3" height="18.2" fill="#2d2a80"/>
<rect x="843.5" y="355.0" width="90.3" height="18.2" fill="#2f2e8d"/>
<rect x="933.5" y="355.0" width="36.3" height="18.2" fill="#2d2a80"/>
<rect x="969.5" y="355.0" width="18.3" height="18.2" fill="#2f2e8d"/>
<rect x="987.5" y="355.0" width="18.3" height="18.2" fill="#31329a"/>
<rect x="1005.5" y="355.0" width="36.3" height="18.2" fill="#33369c"/>
<rect x="1041.4" y="355.0" width="54.3" height="18.2" fill="#33389d"/>
<rect x="1095.4" y="355.0" width="36.3" height="18.2" fill="#33369c"/>
<rect x="1131.4" y="355.0" width="18.4" height="18.2" fill="#2f2e8d"/>
<rect x="735.6" y="373.0" width="18.3" height="18.2" fill="#2f2e8d"/>
<rect x="753.6" y="373.0" width="18.3" height="18.2" fill="#2d2a80"/>
<rect x="771.6" y="373.0" width="18.3" height="18.2" fill="#2f2e8d"/>
<rect x="789.6" y="373.0" width="18.3" height="18.2" fill="#2d2a80"/>
<rect x="807.6" y="373.0" width="18.3" height="18.2" fill="#2f2e8d"/>
<rect x="825.6" y="373.0" width="36.3" height="18.2" fill="#2d2a80"/>
<rect x="861.5" y="373.0" width="18.3" height="18.2" fill="#2f2e8d"/>
<rect x="879.5" y="373.0" width="36.3" height="18.2" fill="#2d2a80"/>
<rect x="915.5" y="373.0" width="36.3" height="18.2" fill="#2f2e8d"/>
<rect x="951.5" y="373.0" width="18.3" height="18.2" fill="#2d2a80"/>
<rect x="969.5" y="373.0" width="18.3" height="18.2" fill="#2f2e8d"/>
<rect x="987.5" y="373.0" width="18.3" height="18.2" fill="#2d2a80"/>
<rect x="1005.5" y="373.0" width="18.3" height="18.2" fill="#2f2e8d"/>
<rect x="1023.4" y="373.0" width="18.3" height="18.2" fill="#2d2a80"/>
<rect x="1041.4" y="373.0" width="108.4" height="18.2" fill="#2f2e8d"/>
<rect x="735.6" y="390.9" width="36.3" height="18.2" fill="#2f2e8d"/>
<rect x="771.6" y="390.9" width="18.3" height="18.2" fill="#2d2a80"/>
<rect x="789.6" y="390.9" width="18.3" height="18.2" fill="#2f2e8d"/>
<rect x="807.6" y="390.9" width="54.3" height="18.2" fill="#2d2a80"/>
<rect x="861.5" y="390.9" width="36.3" height="18.2" fill="#2f2e8d"/>
<rect x="897.5" y="390.9" width="54.3" height="18.2" fill="#2d2a80"/>
<rect x="951.5" y="390.9" width="18.3" height="18.2" fill="#2f2e8d"/>
<rect x="969.5" y="390.9" width="36.3" height="18.2" fill="#2d2a80"/>
<rect x="1005.5" y="390.9" width="54.3" height="18.2" fill="#2f2e8d"/>
<rect x="1059.4" y="390.9" width="18.3" height="18.2" fill="#2d2a80"/>
<rect x="1077.4" y="390.9" width="72.4" height="18.2" fill="#2f2e8d"/>
<rect x="735.6" y="408.8" width="36.3" height="18.2" fill="#2f2e8d"/>
<rect x="771.6" y="408.8" width="36.3" height="18.2" fill="#2d2a80"/>
<rect x="807.6" y="408.8" width="72.3" height="18.2" fill="#2f2e8d"/>
<rect x="879.5" y="408.8" width="36.3" height="18.2" fill="#2d2a80"/>
<rect x="915.5" y="408.8" width="18.3" height="18.2" fill="#2f2e8d"/>
<rect x="933.5" y="408.8" width="18.3" height="18.2" fill="#2d2a80"/>
<rect x="951.5" y="408.8" width="198.3" height="18.2" fill="#2f2e8d"/>
<rect x="735.6" y="426.7" width="36.3" height="18.3" fill="#2f2e8d"/>
<rect x="771.6" y="426.7" width="72.3" height="18.3" fill="#2d2a80"/>
<rect x="843.5" y="426.7" width="72.3" height="18.3" fill="#2f2e8d"/>
<rect x="915.5" y="426.7" width="18.3" height="18.3" fill="#2d2a80"/>
<rect x="933.5" y="426.7" width="54.3" height="18.3" fill="#2f2e8d"/>
<rect x="987.5" y="426.7" width="36.3" height="18.3" fill="#2d2a80"/>
<rect x="1023.4" y="426.7" width="54.3" height="18.3" fill="#2f2e8d"/>
<rect x="1077.4" y="426.7" width="18.3" height="18.3" fill="#2d2a80"/>
<rect x="1095.4" y="426.7" width="18.3" height="18.3" fill="#2f2e8d"/>
<rect x="1113.4" y="426.7" width="18.3" height="18.3" fill="#2d2a80"/>
<rect x="1131.4" y="426.7" width="18.4" height="18.3" fill="#2f2e8d"/>
</g>
<text transform="translate(281.85 154.30) scale(0.9662 1)" font-size="44.20" fill="#fff" font-weight="bold" font-style="italic">B</text>
<text transform="translate(324.45 152.61) scale(1.1311 1)" font-size="40.79" fill="#fff" font-weight="bold">=</text>
<text transform="translate(363.05 154.50) scale(1.0647 1)" font-size="50.42" fill="#fff" font-weight="bold">0</text>
<text transform="translate(752.25 159.90) scale(0.9758 1)" font-size="43.77" fill="#fff" font-weight="bold" font-style="italic">B</text>
<text transform="translate(794.64 158.21) scale(1.1408 1)" font-size="40.79" fill="#fff" font-weight="bold">=</text>
<text transform="translate(834.10 159.99) scale(0.9834 1)" font-size="50.85" fill="#fff" font-weight="bold">82</text>
<text transform="translate(902.17 159.40) scale(0.9656 1)" font-size="49.86" fill="#fff" font-weight="bold">mT</text>
<line x1="332.2" y1="166.4" x2="667.3" y2="323.9" stroke="#fff" stroke-width="4.2" stroke-dasharray="18.6 14"/>
<line x1="813.6" y1="175.7" x2="1148.7" y2="333.7" stroke="#fff" stroke-width="4.2" stroke-dasharray="18.6 14"/>
<rect x="287.2" y="399.2" width="130.8" height="10.4" fill="#fff"/>
<defs><linearGradient id="cbv" x1="0" y1="1" x2="0" y2="0"><stop offset="0.00" stop-color="#2d2a80"/><stop offset="0.06" stop-color="#30309a"/><stop offset="0.13" stop-color="#3a4aa8"/><stop offset="0.20" stop-color="#3d5cb0"/><stop offset="0.26" stop-color="#4a80c5"/><stop offset="0.32" stop-color="#6bbce4"/><stop offset="0.37" stop-color="#8fdcea"/><stop offset="0.42" stop-color="#92e4d0"/><stop offset="0.47" stop-color="#9ae28a"/><stop offset="0.52" stop-color="#b8de4a"/><stop offset="0.56" stop-color="#ccdc00"/><stop offset="0.62" stop-color="#f7e400"/><stop offset="0.67" stop-color="#fbc400"/><stop offset="0.72" stop-color="#f89a00"/><stop offset="0.78" stop-color="#ee5a08"/><stop offset="0.83" stop-color="#e0301a"/><stop offset="0.88" stop-color="#dc281c"/><stop offset="0.93" stop-color="#b8241c"/><stop offset="1.00" stop-color="#7a1c18"/></linearGradient>
<linearGradient id="cbh" x1="0" y1="0" x2="1" y2="0"><stop offset="0.00" stop-color="#2d2a80"/><stop offset="0.06" stop-color="#30309a"/><stop offset="0.13" stop-color="#3a4aa8"/><stop offset="0.20" stop-color="#3d5cb0"/><stop offset="0.26" stop-color="#4a80c5"/><stop offset="0.32" stop-color="#6bbce4"/><stop offset="0.37" stop-color="#8fdcea"/><stop offset="0.42" stop-color="#92e4d0"/><stop offset="0.47" stop-color="#9ae28a"/><stop offset="0.52" stop-color="#b8de4a"/><stop offset="0.56" stop-color="#ccdc00"/><stop offset="0.62" stop-color="#f7e400"/><stop offset="0.67" stop-color="#fbc400"/><stop offset="0.72" stop-color="#f89a00"/><stop offset="0.78" stop-color="#ee5a08"/><stop offset="0.83" stop-color="#e0301a"/><stop offset="0.88" stop-color="#dc281c"/><stop offset="0.93" stop-color="#b8241c"/><stop offset="1.00" stop-color="#7a1c18"/></linearGradient></defs>
<rect x="1205.8" y="97.4" width="27.6" height="210.2" fill="url(#cbv)" stroke="#222" stroke-width="1"/>
<path d="M1205.8 141.2h4M1233.4 141.2h-4" stroke="#222" stroke-width="1"/>
<path d="M1205.8 198.6h4M1233.4 198.6h-4" stroke="#222" stroke-width="1"/>
<path d="M1205.8 256.7h4M1233.4 256.7h-4" stroke="#222" stroke-width="1"/>
<text transform="translate(1158.16 35.79) scale(0.9907 1)" font-size="51.00" fill="#111111" >PL counts</text>
<text transform="translate(1242.58 108.28) scale(0.9689 1)" font-size="52.11" fill="#111111" >2000</text>
<text transform="translate(1242.25 312.57) scale(0.9722 1)" font-size="52.54" fill="#111111" >600</text>
<rect x="1293.8" y="1028.1" width="214.1" height="28.5" fill="url(#cbh)"/>
<path d="M1330.5 1056.6v-4" stroke="#222" stroke-width="1"/>
<path d="M1377.1 1056.6v-4" stroke="#222" stroke-width="1"/>
<path d="M1424.8 1056.6v-4" stroke="#222" stroke-width="1"/>
<path d="M1471.4 1056.6v-4" stroke="#222" stroke-width="1"/>
<text transform="translate(1297.93 1005.99) scale(1.0022 1)" font-size="50.71" fill="#111111" >PL counts</text>
<text transform="translate(1246.88 1116.19) scale(0.9951 1)" font-size="50.56" fill="#111111" >600</text>
<text transform="translate(1493.72 1116.20) scale(1.0604 1)" font-size="50.57" fill="#111111" >2</text>
<text transform="translate(1513.10 1119.91) scale(1.0576 1)" font-size="67.38" fill="#111111" font-family="DejaVu Sans" font-weight="200">×</text>
<text transform="translate(1567.52 1116.19) scale(0.9177 1)" font-size="50.56" fill="#111111" >10</text>
<text transform="translate(1619.55 1100.30) scale(1.0335 1)" font-size="32.90" fill="#111111" >4</text>
<g fill="#fff" stroke="#d9261c" stroke-width="1.5"><circle cx="440.1" cy="868.9" r="9.5"/><circle cx="447.9" cy="868.9" r="9.5"/><circle cx="455.7" cy="855.4" r="9.5"/><circle cx="463.4" cy="855.4" r="9.5"/><circle cx="471.2" cy="855.4" r="9.5"/><circle cx="479.0" cy="868.9" r="9.5"/><circle cx="486.8" cy="868.9" r="9.5"/><circle cx="494.6" cy="868.9" r="9.5"/><circle cx="502.3" cy="868.9" r="9.5"/><circle cx="510.1" cy="855.4" r="9.5"/><circle cx="517.9" cy="855.4" r="9.5"/><circle cx="525.7" cy="855.4" r="9.5"/><circle cx="533.5" cy="855.4" r="9.5"/><circle cx="541.2" cy="855.4" r="9.5"/><circle cx="549.0" cy="855.4" r="9.5"/><circle cx="556.8" cy="855.4" r="9.5"/><circle cx="564.6" cy="855.4" r="9.5"/><circle cx="572.4" cy="868.9" r="9.5"/><circle cx="580.1" cy="868.9" r="9.5"/><circle cx="587.9" cy="868.9" r="9.5"/><circle cx="595.7" cy="868.9" r="9.5"/><circle cx="603.5" cy="868.9" r="9.5"/><circle cx="611.3" cy="868.9" r="9.5"/><circle cx="619.0" cy="868.9" r="9.5"/><circle cx="626.8" cy="868.9" r="9.5"/><circle cx="634.6" cy="868.9" r="9.5"/><circle cx="642.4" cy="848.2" r="9.5"/><circle cx="650.2" cy="848.2" r="9.5"/><circle cx="657.9" cy="848.2" r="9.5"/><circle cx="665.7" cy="827.3" r="9.5"/><circle cx="673.5" cy="827.3" r="9.5"/><circle cx="681.3" cy="804.4" r="9.5"/><circle cx="689.1" cy="804.4" r="9.5"/><circle cx="696.8" cy="804.4" r="9.5"/><circle cx="704.6" cy="786.2" r="9.5"/><circle cx="712.4" cy="786.2" r="9.5"/><circle cx="720.2" cy="786.2" r="9.5"/><circle cx="728.0" cy="768.7" r="9.5"/><circle cx="735.7" cy="757.2" r="9.5"/><circle cx="743.5" cy="757.2" r="9.5"/><circle cx="751.3" cy="749.4" r="9.5"/><circle cx="759.1" cy="749.4" r="9.5"/><circle cx="766.9" cy="749.4" r="9.5"/><circle cx="774.6" cy="734.9" r="9.5"/><circle cx="782.4" cy="722.9" r="9.5"/><circle cx="790.2" cy="722.9" r="9.5"/><circle cx="798.0" cy="713.9" r="9.5"/><circle cx="805.8" cy="712.0" r="9.5"/><circle cx="813.5" cy="693.3" r="9.5"/><circle cx="821.3" cy="673.1" r="9.5"/><circle cx="829.1" cy="673.1" r="9.5"/><circle cx="836.9" cy="673.1" r="9.5"/><circle cx="844.7" cy="651.3" r="9.5"/><circle cx="852.4" cy="651.3" r="9.5"/><circle cx="860.2" cy="631.8" r="9.5"/><circle cx="868.0" cy="620.1" r="9.5"/><circle cx="875.8" cy="620.1" r="9.5"/><circle cx="883.6" cy="620.1" r="9.5"/><circle cx="891.3" cy="610.7" r="9.5"/><circle cx="899.1" cy="581.9" r="9.5"/><circle cx="906.9" cy="581.9" r="9.5"/><circle cx="914.7" cy="565.9" r="9.5"/><circle cx="922.5" cy="565.9" r="9.5"/><circle cx="930.2" cy="565.9" r="9.5"/><circle cx="938.0" cy="582.7" r="9.5"/><circle cx="945.8" cy="582.7" r="9.5"/><circle cx="953.6" cy="582.7" r="9.5"/><circle cx="961.4" cy="610.1" r="9.5"/><circle cx="969.1" cy="610.1" r="9.5"/><circle cx="976.9" cy="610.1" r="9.5"/><circle cx="1000.3" cy="641.9" r="9.5"/><circle cx="1008.0" cy="677.0" r="9.5"/><circle cx="1015.8" cy="677.0" r="9.5"/><circle cx="1023.6" cy="707.3" r="9.5"/><circle cx="1031.4" cy="734.9" r="9.5"/><circle cx="1039.2" cy="734.9" r="9.5"/><circle cx="1046.9" cy="762.3" r="9.5"/><circle cx="1054.7" cy="762.3" r="9.5"/><circle cx="1062.5" cy="786.8" r="9.5"/><circle cx="1070.3" cy="810.3" r="9.5"/><circle cx="1078.1" cy="810.3" r="9.5"/><circle cx="1085.8" cy="810.3" r="9.5"/><circle cx="1093.6" cy="826.2" r="9.5"/><circle cx="1101.4" cy="826.2" r="9.5"/><circle cx="1109.2" cy="846.0" r="9.5"/></g>
<path d="M433.4 868.6L437.3 868.6L441.2 868.5L445.1 868.5L449.0 868.5L452.9 868.4L456.8 868.4L460.7 868.4L464.6 868.4L468.5 868.3L472.4 868.3L476.3 868.2L480.2 868.2L484.1 868.2L488.0 868.1L491.9 868.1L495.8 868.0L499.7 868.0L503.6 867.9L507.5 867.9L511.4 867.8L515.3 867.8L519.2 867.7L523.1 867.6L527.0 867.5L530.9 867.5L534.8 867.4L538.7 867.3L542.6 867.1L546.5 867.0L550.4 866.9L554.3 866.7L558.2 866.6L562.1 866.4L566.0 866.2L569.9 865.9L573.8 865.7L577.7 865.4L581.6 865.1L585.5 864.8L589.4 864.5L593.3 864.1L597.2 863.7L601.1 863.2L605.0 862.7L608.9 862.1L612.8 861.5L616.7 860.9L620.6 860.2L624.5 859.4L628.4 858.6L632.3 857.7L636.2 856.7L640.1 855.6L644.0 854.5L647.9 853.2L651.8 851.9L655.7 850.5L659.6 849.0L663.5 847.3L667.4 845.6L671.3 843.7L675.2 841.7L679.2 839.6L683.1 837.3L687.0 834.9L690.9 832.3L694.8 829.6L698.7 826.8L702.6 823.8L706.5 820.6L710.4 817.3L714.3 813.8L718.2 810.2L722.1 806.4L726.0 802.4L729.9 798.2L733.8 793.9L737.7 789.4L741.6 784.8L745.5 780.0L749.4 775.0L753.3 769.9L757.2 764.6L761.1 759.2L765.0 753.7L768.9 748.0L772.8 742.2L776.7 736.4L780.6 730.4L784.5 724.3L788.4 718.2L792.3 712.1L796.2 705.8L800.1 699.6L804.0 693.4L807.9 687.1L811.8 680.9L815.7 674.8L819.6 668.6L823.5 662.6L827.4 656.7L831.3 650.9L835.2 645.2L839.1 639.7L843.0 634.4L846.9 629.2L850.8 624.3L854.7 619.6L858.6 615.2L862.5 611.0L866.4 607.1L870.3 603.5L874.2 600.1L878.1 597.2L882.0 594.5L885.9 592.2L889.8 590.2L893.7 588.6L897.6 587.4L901.5 586.5L905.4 586.0L909.3 585.9L913.2 586.2L917.1 586.8L921.0 587.8L924.9 589.1L928.8 590.8L932.7 592.9L936.6 595.3L940.5 598.1L944.4 601.1L948.3 604.5L952.2 608.2L956.1 612.1L960.0 616.3L963.9 620.8L967.8 625.5L971.7 630.5L975.6 635.6L979.5 640.9L983.4 646.4L987.3 652.0L991.2 657.8L995.1 663.7L999.0 669.7L1002.9 675.7L1006.8 681.8L1010.7 687.9L1014.6 694.1L1018.5 700.2L1022.4 706.4L1026.3 712.5L1030.2 718.5L1034.1 724.6L1038.0 730.5L1041.9 736.4L1045.8 742.1L1049.7 747.8L1053.6 753.3L1057.5 758.7L1061.4 764.0L1065.3 769.2L1069.2 774.2L1073.1 779.0L1077.0 783.7L1080.9 788.2L1084.8 792.6L1088.7 796.8L1092.6 800.9L1096.5 804.7L1100.4 808.5L1104.3 812.0L1108.2 815.4L1112.1 818.6L1116.0 821.7L1119.9 824.6L1123.8 827.3L1127.7 829.9L1131.6 832.4L1135.5 834.7L1139.4 836.9L1143.3 838.9L1147.2 840.9L1151.1 842.7L1155.0 844.3L1158.9 845.9L1162.8 847.4L1166.8 848.7L1170.7 850.0L1174.6 851.2L1178.5 852.2L1182.4 853.2L1186.3 854.2L1190.2 855.0L1194.1 855.8L1198.0 856.5L1201.9 857.2L1205.8 857.8L1209.7 858.3L1213.6 858.8" fill="none" stroke="#d9261c" stroke-width="6.5" stroke-linejoin="round"/>
<g fill="#fff" stroke="#3a47a8" stroke-width="1.5"><rect x="431.7" y="848.2" width="16.8" height="16.8"/><rect x="439.5" y="848.2" width="16.8" height="16.8"/><rect x="447.3" y="859.0" width="16.8" height="16.8"/><rect x="455.0" y="859.0" width="16.8" height="16.8"/><rect x="462.8" y="859.0" width="16.8" height="16.8"/><rect x="470.6" y="859.0" width="16.8" height="16.8"/><rect x="478.4" y="859.0" width="16.8" height="16.8"/><rect x="486.2" y="859.0" width="16.8" height="16.8"/><rect x="493.9" y="859.0" width="16.8" height="16.8"/><rect x="501.7" y="859.0" width="16.8" height="16.8"/><rect x="509.5" y="859.0" width="16.8" height="16.8"/><rect x="517.3" y="859.0" width="16.8" height="16.8"/><rect x="525.1" y="859.0" width="16.8" height="16.8"/><rect x="532.8" y="859.0" width="16.8" height="16.8"/><rect x="540.6" y="859.0" width="16.8" height="16.8"/><rect x="548.4" y="859.0" width="16.8" height="16.8"/><rect x="556.2" y="859.0" width="16.8" height="16.8"/><rect x="564.0" y="859.0" width="16.8" height="16.8"/><rect x="571.7" y="846.8" width="16.8" height="16.8"/><rect x="579.5" y="846.8" width="16.8" height="16.8"/><rect x="587.3" y="846.8" width="16.8" height="16.8"/><rect x="595.1" y="846.8" width="16.8" height="16.8"/><rect x="602.9" y="846.8" width="16.8" height="16.8"/><rect x="610.6" y="846.8" width="16.8" height="16.8"/><rect x="618.4" y="846.8" width="16.8" height="16.8"/><rect x="626.2" y="846.8" width="16.8" height="16.8"/><rect x="634.0" y="848.5" width="16.8" height="16.8"/><rect x="641.8" y="818.3" width="16.8" height="16.8"/><rect x="649.5" y="818.3" width="16.8" height="16.8"/><rect x="657.3" y="818.3" width="16.8" height="16.8"/><rect x="665.1" y="812.4" width="16.8" height="16.8"/><rect x="672.9" y="812.4" width="16.8" height="16.8"/><rect x="680.7" y="812.4" width="16.8" height="16.8"/><rect x="688.4" y="812.4" width="16.8" height="16.8"/><rect x="696.2" y="796.5" width="16.8" height="16.8"/><rect x="704.0" y="796.5" width="16.8" height="16.8"/><rect x="711.8" y="796.5" width="16.8" height="16.8"/><rect x="719.6" y="772.2" width="16.8" height="16.8"/><rect x="727.3" y="772.2" width="16.8" height="16.8"/><rect x="735.1" y="772.2" width="16.8" height="16.8"/><rect x="742.9" y="748.8" width="16.8" height="16.8"/><rect x="750.7" y="740.2" width="16.8" height="16.8"/><rect x="758.5" y="740.2" width="16.8" height="16.8"/><rect x="766.2" y="732.0" width="16.8" height="16.8"/><rect x="774.0" y="740.2" width="16.8" height="16.8"/><rect x="781.8" y="740.2" width="16.8" height="16.8"/><rect x="789.6" y="716.1" width="16.8" height="16.8"/><rect x="797.4" y="716.1" width="16.8" height="16.8"/><rect x="805.1" y="716.1" width="16.8" height="16.8"/><rect x="812.9" y="697.4" width="16.8" height="16.8"/><rect x="820.7" y="706.7" width="16.8" height="16.8"/><rect x="828.5" y="706.7" width="16.8" height="16.8"/><rect x="836.3" y="674.6" width="16.8" height="16.8"/><rect x="844.0" y="674.6" width="16.8" height="16.8"/><rect x="851.8" y="666.5" width="16.8" height="16.8"/><rect x="859.6" y="666.5" width="16.8" height="16.8"/><rect x="867.4" y="650.6" width="16.8" height="16.8"/><rect x="875.2" y="650.6" width="16.8" height="16.8"/><rect x="882.9" y="650.6" width="16.8" height="16.8"/><rect x="890.7" y="638.2" width="16.8" height="16.8"/><rect x="898.5" y="624.5" width="16.8" height="16.8"/><rect x="906.3" y="624.5" width="16.8" height="16.8"/><rect x="914.1" y="624.5" width="16.8" height="16.8"/><rect x="921.8" y="624.5" width="16.8" height="16.8"/><rect x="929.6" y="624.5" width="16.8" height="16.8"/><rect x="937.4" y="616.4" width="16.8" height="16.8"/><rect x="945.2" y="616.4" width="16.8" height="16.8"/><rect x="953.0" y="616.4" width="16.8" height="16.8"/><rect x="960.7" y="624.5" width="16.8" height="16.8"/><rect x="968.5" y="624.5" width="16.8" height="16.8"/><rect x="976.3" y="624.5" width="16.8" height="16.8"/><rect x="984.1" y="642.9" width="16.8" height="16.8"/><rect x="991.9" y="650.6" width="16.8" height="16.8"/><rect x="999.6" y="642.9" width="16.8" height="16.8"/><rect x="1007.4" y="674.6" width="16.8" height="16.8"/><rect x="1015.2" y="674.6" width="16.8" height="16.8"/><rect x="1023.0" y="674.6" width="16.8" height="16.8"/><rect x="1030.8" y="689.9" width="16.8" height="16.8"/><rect x="1038.5" y="716.1" width="16.8" height="16.8"/><rect x="1046.3" y="716.1" width="16.8" height="16.8"/><rect x="1054.1" y="716.1" width="16.8" height="16.8"/><rect x="1061.9" y="732.6" width="16.8" height="16.8"/><rect x="1069.7" y="740.2" width="16.8" height="16.8"/><rect x="1077.4" y="740.2" width="16.8" height="16.8"/><rect x="1085.2" y="784.3" width="16.8" height="16.8"/><rect x="1093.0" y="784.3" width="16.8" height="16.8"/><rect x="1100.8" y="772.2" width="16.8" height="16.8"/><rect x="1108.6" y="805.7" width="16.8" height="16.8"/><rect x="1116.3" y="805.7" width="16.8" height="16.8"/><rect x="1124.1" y="805.7" width="16.8" height="16.8"/><rect x="1131.9" y="838.5" width="16.8" height="16.8"/><rect x="1139.7" y="838.5" width="16.8" height="16.8"/><rect x="1147.5" y="838.5" width="16.8" height="16.8"/></g>
<path d="M433.4 865.4L437.3 865.4L441.2 865.3L445.1 865.3L449.0 865.3L452.9 865.3L456.8 865.3L460.7 865.2L464.6 865.2L468.5 865.2L472.4 865.1L476.3 865.1L480.2 865.1L484.1 865.0L488.0 865.0L491.9 864.9L495.8 864.8L499.7 864.8L503.6 864.7L507.5 864.6L511.4 864.5L515.3 864.4L519.2 864.3L523.1 864.1L527.0 864.0L530.9 863.8L534.8 863.7L538.7 863.5L542.6 863.3L546.5 863.1L550.4 862.8L554.3 862.6L558.2 862.3L562.1 862.0L566.0 861.7L569.9 861.3L573.8 861.0L577.7 860.6L581.6 860.1L585.5 859.7L589.4 859.1L593.3 858.6L597.2 858.0L601.1 857.4L605.0 856.7L608.9 856.0L612.8 855.2L616.7 854.4L620.6 853.5L624.5 852.6L628.4 851.6L632.3 850.6L636.2 849.5L640.1 848.3L644.0 847.0L647.9 845.7L651.8 844.3L655.7 842.9L659.6 841.3L663.5 839.7L667.4 838.0L671.3 836.2L675.2 834.3L679.2 832.3L683.1 830.2L687.0 828.1L690.9 825.8L694.8 823.4L698.7 821.0L702.6 818.4L706.5 815.8L710.4 813.0L714.3 810.2L718.2 807.2L722.1 804.2L726.0 801.1L729.9 797.8L733.8 794.5L737.7 791.1L741.6 787.5L745.5 783.9L749.4 780.2L753.3 776.5L757.2 772.6L761.1 768.7L765.0 764.7L768.9 760.6L772.8 756.5L776.7 752.3L780.6 748.1L784.5 743.8L788.4 739.5L792.3 735.2L796.2 730.8L800.1 726.5L804.0 722.1L807.9 717.7L811.8 713.4L815.7 709.1L819.6 704.8L823.5 700.5L827.4 696.3L831.3 692.2L835.2 688.1L839.1 684.1L843.0 680.1L846.9 676.3L850.8 672.6L854.7 669.0L858.6 665.5L862.5 662.2L866.4 659.0L870.3 655.9L874.2 653.0L878.1 650.3L882.0 647.7L885.9 645.4L889.8 643.2L893.7 641.2L897.6 639.4L901.5 637.8L905.4 636.4L909.3 635.2L913.2 634.2L917.1 633.5L921.0 633.0L924.9 632.6L928.8 632.6L932.7 632.7L936.6 633.1L940.5 633.6L944.4 634.4L948.3 635.5L952.2 636.7L956.1 638.1L960.0 639.8L963.9 641.6L967.8 643.7L971.7 645.9L975.6 648.4L979.5 651.0L983.4 653.7L987.3 656.7L991.2 659.8L995.1 663.0L999.0 666.4L1002.9 669.9L1006.8 673.5L1010.7 677.3L1014.6 681.1L1018.5 685.1L1022.4 689.1L1026.3 693.2L1030.2 697.4L1034.1 701.6L1038.0 705.8L1041.9 710.2L1045.8 714.5L1049.7 718.8L1053.6 723.2L1057.5 727.6L1061.4 731.9L1065.3 736.3L1069.2 740.6L1073.1 744.9L1077.0 749.1L1080.9 753.4L1084.8 757.5L1088.7 761.6L1092.6 765.7L1096.5 769.7L1100.4 773.6L1104.3 777.4L1108.2 781.2L1112.1 784.8L1116.0 788.4L1119.9 791.9L1123.8 795.3L1127.7 798.6L1131.6 801.9L1135.5 805.0L1139.4 808.0L1143.3 810.9L1147.2 813.7L1151.1 816.5L1155.0 819.1L1158.9 821.6L1162.8 824.0L1166.8 826.4L1170.7 828.6L1174.6 830.8L1178.5 832.8L1182.4 834.8L1186.3 836.6L1190.2 838.4L1194.1 840.1L1198.0 841.7L1201.9 843.2L1205.8 844.7L1209.7 846.1L1213.6 847.4" fill="none" stroke="#3a47a8" stroke-width="6.5" stroke-linejoin="round"/>
<rect x="433.4" y="522.6" width="780.2" height="390.4" fill="none" stroke="#111111" stroke-width="4.4"/>
<path d="M628.4 913.0v-15.5M823.5 913.0v-15.5M1018.5 913.0v-15.5M433.4 757.2h15.5M433.4 601.4h15.5" stroke="#111111" stroke-width="4.4" fill="none"/>
<text transform="translate(419.36 972.04) scale(0.9990 1)" font-size="56.06" fill="#111111" >0</text>
<text transform="translate(615.65 972.30) scale(1.0438 1)" font-size="56.43" fill="#111111" >2</text>
<text transform="translate(813.29 972.30) scale(0.9953 1)" font-size="56.67" fill="#111111" >4</text>
<text transform="translate(995.09 972.04) scale(1.0393 1)" font-size="56.06" fill="#111111" >6</text>
<text transform="translate(1193.63 972.04) scale(1.0172 1)" font-size="56.06" fill="#111111" >8</text>
<text transform="translate(381.50 618.00) scale(1.0308 1)" font-size="56.29" fill="#111111" >2</text>
<text transform="translate(385.65 774.40) scale(0.6319 1)" font-size="55.94" fill="#111111" >1</text>
<text transform="translate(382.72 931.55) scale(0.9826 1)" font-size="55.49" fill="#111111" >0</text>
<text transform="translate(693.30 1041.50) scale(0.9910 1)" font-size="55.51" fill="#111111" >Length (μm)</text>
<text transform="translate(326.20 960.20) rotate(-90) scale(0.9661 1)" font-size="56.96" fill="#111111" >PL counts (<tspan font-size="116%" dy="0.085em">×</tspan><tspan dy="-0.1em"> 10</tspan><tspan font-size="68%" dy="-0.415em">3</tspan><tspan dy="0.282em">)</tspan></text>
<text transform="translate(484.23 601.83) scale(0.7931 1)" font-size="57.18" fill="#111111" stroke="#111111" stroke-width="0.8">C</text>
<rect x="478.4" y="656.7" width="26.3" height="26.2" fill="none" stroke="#3a47a8" stroke-width="6.6"/>
<circle cx="492.1" cy="742.5" r="13.8" fill="none" stroke="#d9261c" stroke-width="6.6"/>
<text transform="translate(529.40 693.27) scale(0.9379 1)" font-size="53.38" fill="#111111" >0 mT</text>
<text transform="translate(529.14 753.08) scale(0.9628 1)" font-size="52.25" fill="#111111" >82 mT</text>
<g shape-rendering="crispEdges">
<rect x="3.2" y="1157.0" width="298.7" height="260.8" fill="#2d2a80"/>
<rect x="3.2" y="1157.0" width="71.5" height="18.3" fill="#23236e"/>
<rect x="74.4" y="1157.0" width="133.9" height="18.3" fill="#2d2a80"/>
<rect x="208.0" y="1157.0" width="94.2" height="18.3" fill="#23236e"/>
<rect x="3.2" y="1175.0" width="27.0" height="22.6" fill="#2d2a80"/>
<rect x="29.9" y="1175.0" width="133.9" height="22.6" fill="#31329a"/>
<rect x="163.5" y="1175.0" width="44.8" height="22.6" fill="#2f2e8d"/>
<rect x="208.0" y="1175.0" width="22.6" height="22.6" fill="#2d2a80"/>
<rect x="230.3" y="1175.0" width="71.9" height="22.6" fill="#23236e"/>
<rect x="3.2" y="1197.3" width="27.0" height="22.6" fill="#2f2e8d"/>
<rect x="29.9" y="1197.3" width="22.6" height="22.6" fill="#31329a"/>
<rect x="52.1" y="1197.3" width="22.6" height="22.6" fill="#353ca0"/>
<rect x="74.4" y="1197.3" width="111.7" height="22.6" fill="#3947a5"/>
<rect x="185.8" y="1197.3" width="22.6" height="22.6" fill="#353ca0"/>
<rect x="208.0" y="1197.3" width="22.6" height="22.6" fill="#2f2e8d"/>
<rect x="230.3" y="1197.3" width="22.6" height="22.6" fill="#2d2a80"/>
<rect x="252.6" y="1197.3" width="49.6" height="22.6" fill="#23236e"/>
<rect x="3.2" y="1219.5" width="27.0" height="22.6" fill="#31329a"/>
<rect x="29.9" y="1219.5" width="22.6" height="22.6" fill="#353ca0"/>
<rect x="52.1" y="1219.5" width="22.6" height="22.6" fill="#3947a5"/>
<rect x="74.4" y="1219.5" width="22.6" height="22.6" fill="#4160b2"/>
<rect x="96.7" y="1219.5" width="44.8" height="22.6" fill="#5a9ad0"/>
<rect x="141.2" y="1219.5" width="22.6" height="22.6" fill="#4c80c4"/>
<rect x="163.5" y="1219.5" width="22.6" height="22.6" fill="#4160b2"/>
<rect x="185.8" y="1219.5" width="22.6" height="22.6" fill="#3947a5"/>
<rect x="208.0" y="1219.5" width="22.6" height="22.6" fill="#353ca0"/>
<rect x="230.3" y="1219.5" width="22.6" height="22.6" fill="#2f2e8d"/>
<rect x="252.6" y="1219.5" width="49.6" height="22.6" fill="#23236e"/>
<rect x="3.2" y="1241.8" width="4.7" height="22.6" fill="#31329a"/>
<rect x="7.6" y="1241.8" width="22.6" height="22.6" fill="#353ca0"/>
<rect x="29.9" y="1241.8" width="22.6" height="22.6" fill="#3947a5"/>
<rect x="52.1" y="1241.8" width="22.6" height="22.6" fill="#5a9ad0"/>
<rect x="74.4" y="1241.8" width="22.6" height="22.6" fill="#96e4d4"/>
<rect x="96.7" y="1241.8" width="22.6" height="22.6" fill="#bce050"/>
<rect x="118.9" y="1241.8" width="22.6" height="22.6" fill="#c1df38"/>
<rect x="141.2" y="1241.8" width="22.6" height="22.6" fill="#a2e48a"/>
<rect x="163.5" y="1241.8" width="22.6" height="22.6" fill="#80cfe8"/>
<rect x="185.8" y="1241.8" width="22.6" height="22.6" fill="#4670bb"/>
<rect x="208.0" y="1241.8" width="22.6" height="22.6" fill="#3947a5"/>
<rect x="230.3" y="1241.8" width="22.6" height="22.6" fill="#31329a"/>
<rect x="252.6" y="1241.8" width="22.6" height="22.6" fill="#2f2e8d"/>
<rect x="274.8" y="1241.8" width="27.4" height="22.6" fill="#23236e"/>
<rect x="3.2" y="1264.1" width="4.7" height="22.6" fill="#31329a"/>
<rect x="7.6" y="1264.1" width="22.6" height="22.6" fill="#353ca0"/>
<rect x="29.9" y="1264.1" width="22.6" height="22.6" fill="#3947a5"/>
<rect x="52.1" y="1264.1" width="22.6" height="22.6" fill="#70c2e6"/>
<rect x="74.4" y="1264.1" width="22.6" height="22.6" fill="#bce050"/>
<rect x="96.7" y="1264.1" width="22.6" height="22.6" fill="#f8e200"/>
<rect x="118.9" y="1264.1" width="44.8" height="22.6" fill="#f9d900"/>
<rect x="163.5" y="1264.1" width="22.6" height="22.6" fill="#ccdc00"/>
<rect x="185.8" y="1264.1" width="22.6" height="22.6" fill="#70c2e6"/>
<rect x="208.0" y="1264.1" width="22.6" height="22.6" fill="#3d54ac"/>
<rect x="230.3" y="1264.1" width="22.6" height="22.6" fill="#3947a5"/>
<rect x="252.6" y="1264.1" width="22.6" height="22.6" fill="#2f2e8d"/>
<rect x="274.8" y="1264.1" width="27.4" height="22.6" fill="#23236e"/>
<rect x="3.2" y="1286.3" width="4.7" height="22.6" fill="#2f2e8d"/>
<rect x="7.6" y="1286.3" width="22.6" height="22.6" fill="#353ca0"/>
<rect x="29.9" y="1286.3" width="22.6" height="22.6" fill="#3947a5"/>
<rect x="52.1" y="1286.3" width="22.6" height="22.6" fill="#90dcea"/>
<rect x="74.4" y="1286.3" width="22.6" height="22.6" fill="#e6e000"/>
<rect x="96.7" y="1286.3" width="22.6" height="22.6" fill="#f07800"/>
<rect x="118.9" y="1286.3" width="44.8" height="22.6" fill="#ea5004"/>
<rect x="163.5" y="1286.3" width="22.6" height="22.6" fill="#ebe100"/>
<rect x="185.8" y="1286.3" width="22.6" height="22.6" fill="#90dcea"/>
<rect x="208.0" y="1286.3" width="22.6" height="22.6" fill="#3d54ac"/>
<rect x="230.3" y="1286.3" width="22.6" height="22.6" fill="#3947a5"/>
<rect x="252.6" y="1286.3" width="22.6" height="22.6" fill="#2f2e8d"/>
<rect x="274.8" y="1286.3" width="22.6" height="22.6" fill="#2d2a80"/>
<rect x="297.1" y="1286.3" width="5.1" height="22.6" fill="#282677"/>
<rect x="3.2" y="1308.6" width="27.0" height="22.6" fill="#2d2a80"/>
<rect x="29.9" y="1308.6" width="22.6" height="22.6" fill="#353ca0"/>
<rect x="52.1" y="1308.6" width="22.6" height="22.6" fill="#5a9ad0"/>
<rect x="74.4" y="1308.6" width="22.6" height="22.6" fill="#ccdc00"/>
<rect x="96.7" y="1308.6" width="22.6" height="22.6" fill="#f89a00"/>
<rect x="118.9" y="1308.6" width="22.6" height="22.6" fill="#ea5004"/>
<rect x="141.2" y="1308.6" width="22.6" height="22.6" fill="#dc281c"/>
<rect x="163.5" y="1308.6" width="22.6" height="22.6" fill="#f89a00"/>
<rect x="185.8" y="1308.6" width="22.6" height="22.6" fill="#a2e48a"/>
<rect x="208.0" y="1308.6" width="22.6" height="22.6" fill="#4c80c4"/>
<rect x="230.3" y="1308.6" width="22.6" height="22.6" fill="#3947a5"/>
<rect x="252.6" y="1308.6" width="22.6" height="22.6" fill="#2f2e8d"/>
<rect x="274.8" y="1308.6" width="22.6" height="22.6" fill="#2d2a80"/>
<rect x="297.1" y="1308.6" width="5.1" height="22.6" fill="#282677"/>
<rect x="3.2" y="1330.9" width="27.0" height="22.6" fill="#2d2a80"/>
<rect x="29.9" y="1330.9" width="22.6" height="22.6" fill="#353ca0"/>
<rect x="52.1" y="1330.9" width="22.6" height="22.6" fill="#4160b2"/>
<rect x="74.4" y="1330.9" width="22.6" height="22.6" fill="#afe26d"/>
<rect x="96.7" y="1330.9" width="22.6" height="22.6" fill="#f8e200"/>
<rect x="118.9" y="1330.9" width="22.6" height="22.6" fill="#faaf00"/>
<rect x="141.2" y="1330.9" width="22.6" height="22.6" fill="#ea5004"/>
<rect x="163.5" y="1330.9" width="22.6" height="22.6" fill="#fab700"/>
<rect x="185.8" y="1330.9" width="22.6" height="22.6" fill="#afe26d"/>
<rect x="208.0" y="1330.9" width="22.6" height="22.6" fill="#5088c8"/>
<rect x="230.3" y="1330.9" width="22.6" height="22.6" fill="#3947a5"/>
<rect x="252.6" y="1330.9" width="22.6" height="22.6" fill="#2f2e8d"/>
<rect x="274.8" y="1330.9" width="22.6" height="22.6" fill="#2d2a80"/>
<rect x="297.1" y="1330.9" width="5.1" height="22.6" fill="#282677"/>
<rect x="3.2" y="1353.2" width="27.0" height="22.6" fill="#2d2a80"/>
<rect x="29.9" y="1353.2" width="22.6" height="22.6" fill="#2f2e8d"/>
<rect x="52.1" y="1353.2" width="22.6" height="22.6" fill="#3947a5"/>
<rect x="74.4" y="1353.2" width="22.6" height="22.6" fill="#5088c8"/>
<rect x="96.7" y="1353.2" width="22.6" height="22.6" fill="#c1df38"/>
<rect x="118.9" y="1353.2" width="22.6" height="22.6" fill="#ebe100"/>
<rect x="141.2" y="1353.2" width="22.6" height="22.6" fill="#f9d900"/>
<rect x="163.5" y="1353.2" width="22.6" height="22.6" fill="#e6e000"/>
<rect x="185.8" y="1353.2" width="22.6" height="22.6" fill="#9ae4be"/>
<rect x="208.0" y="1353.2" width="22.6" height="22.6" fill="#3d54ac"/>
<rect x="230.3" y="1353.2" width="22.6" height="22.6" fill="#31329a"/>
<rect x="252.6" y="1353.2" width="22.6" height="22.6" fill="#2d2a80"/>
<rect x="274.8" y="1353.2" width="22.6" height="22.6" fill="#282677"/>
<rect x="297.1" y="1353.2" width="5.1" height="22.6" fill="#23236e"/>
<rect x="3.2" y="1375.4" width="27.0" height="22.6" fill="#23236e"/>
<rect x="29.9" y="1375.4" width="22.6" height="22.6" fill="#2d2a80"/>
<rect x="52.1" y="1375.4" width="22.6" height="22.6" fill="#31329a"/>
<rect x="74.4" y="1375.4" width="22.6" height="22.6" fill="#3947a5"/>
<rect x="96.7" y="1375.4" width="22.6" height="22.6" fill="#80cfe8"/>
<rect x="118.9" y="1375.4" width="44.8" height="22.6" fill="#a2e48a"/>
<rect x="163.5" y="1375.4" width="22.6" height="22.6" fill="#92dee3"/>
<rect x="185.8" y="1375.4" width="22.6" height="22.6" fill="#4c80c4"/>
<rect x="208.0" y="1375.4" width="22.6" height="22.6" fill="#353ca0"/>
<rect x="230.3" y="1375.4" width="22.6" height="22.6" fill="#2f2e8d"/>
<rect x="252.6" y="1375.4" width="49.6" height="22.6" fill="#23236e"/>
<rect x="3.2" y="1397.7" width="49.2" height="20.4" fill="#23236e"/>
<rect x="52.1" y="1397.7" width="22.6" height="20.4" fill="#2d2a80"/>
<rect x="74.4" y="1397.7" width="22.6" height="20.4" fill="#31329a"/>
<rect x="96.7" y="1397.7" width="22.6" height="20.4" fill="#3947a5"/>
<rect x="118.9" y="1397.7" width="44.8" height="20.4" fill="#3d54ac"/>
<rect x="163.5" y="1397.7" width="44.8" height="20.4" fill="#3947a5"/>
<rect x="208.0" y="1397.7" width="22.6" height="20.4" fill="#2f2e8d"/>
<rect x="230.3" y="1397.7" width="22.6" height="20.4" fill="#2d2a80"/>
<rect x="252.6" y="1397.7" width="49.6" height="20.4" fill="#23236e"/>
</g>
<g shape-rendering="crispEdges">
<rect x="312.0" y="1157.0" width="298.5" height="260.8" fill="#2d2a80"/>
<rect x="312.0" y="1157.0" width="56.6" height="17.0" fill="#23236e"/>
<rect x="368.3" y="1157.0" width="22.5" height="17.0" fill="#2f2e8d"/>
<rect x="390.5" y="1157.0" width="133.3" height="17.0" fill="#31329a"/>
<rect x="523.5" y="1157.0" width="22.5" height="17.0" fill="#2d2a80"/>
<rect x="545.7" y="1157.0" width="65.1" height="17.0" fill="#23236e"/>
<rect x="312.0" y="1173.7" width="12.3" height="22.5" fill="#23236e"/>
<rect x="324.0" y="1173.7" width="22.5" height="22.5" fill="#2d2a80"/>
<rect x="346.2" y="1173.7" width="22.5" height="22.5" fill="#2f2e8d"/>
<rect x="368.3" y="1173.7" width="22.5" height="22.5" fill="#31329a"/>
<rect x="390.5" y="1173.7" width="22.5" height="22.5" fill="#353ca0"/>
<rect x="412.7" y="1173.7" width="89.0" height="22.5" fill="#3947a5"/>
<rect x="501.4" y="1173.7" width="22.5" height="22.5" fill="#31329a"/>
<rect x="523.5" y="1173.7" width="22.5" height="22.5" fill="#2f2e8d"/>
<rect x="545.7" y="1173.7" width="22.5" height="22.5" fill="#2d2a80"/>
<rect x="567.9" y="1173.7" width="42.9" height="22.5" fill="#23236e"/>
<rect x="312.0" y="1195.9" width="12.3" height="22.5" fill="#23236e"/>
<rect x="324.0" y="1195.9" width="22.5" height="22.5" fill="#2f2e8d"/>
<rect x="346.2" y="1195.9" width="22.5" height="22.5" fill="#353ca0"/>
<rect x="368.3" y="1195.9" width="44.6" height="22.5" fill="#3947a5"/>
<rect x="412.7" y="1195.9" width="22.5" height="22.5" fill="#4160b2"/>
<rect x="434.9" y="1195.9" width="44.6" height="22.5" fill="#5088c8"/>
<rect x="479.2" y="1195.9" width="22.5" height="22.5" fill="#3d54ac"/>
<rect x="501.4" y="1195.9" width="22.5" height="22.5" fill="#3947a5"/>
<rect x="523.5" y="1195.9" width="22.5" height="22.5" fill="#353ca0"/>
<rect x="545.7" y="1195.9" width="22.5" height="22.5" fill="#2f2e8d"/>
<rect x="567.9" y="1195.9" width="22.5" height="22.5" fill="#2d2a80"/>
<rect x="590.0" y="1195.9" width="20.8" height="22.5" fill="#23236e"/>
<rect x="312.0" y="1218.0" width="12.3" height="22.5" fill="#282677"/>
<rect x="324.0" y="1218.0" width="22.5" height="22.5" fill="#2d2a80"/>
<rect x="346.2" y="1218.0" width="22.5" height="22.5" fill="#31329a"/>
<rect x="368.3" y="1218.0" width="22.5" height="22.5" fill="#3947a5"/>
<rect x="390.5" y="1218.0" width="22.5" height="22.5" fill="#5088c8"/>
<rect x="412.7" y="1218.0" width="22.5" height="22.5" fill="#96e4d4"/>
<rect x="434.9" y="1218.0" width="22.5" height="22.5" fill="#bce050"/>
<rect x="457.0" y="1218.0" width="22.5" height="22.5" fill="#ccdc00"/>
<rect x="479.2" y="1218.0" width="22.5" height="22.5" fill="#9ee4a0"/>
<rect x="501.4" y="1218.0" width="22.5" height="22.5" fill="#69b6df"/>
<rect x="523.5" y="1218.0" width="22.5" height="22.5" fill="#3d54ac"/>
<rect x="545.7" y="1218.0" width="22.5" height="22.5" fill="#3947a5"/>
<rect x="567.9" y="1218.0" width="22.5" height="22.5" fill="#31329a"/>
<rect x="590.0" y="1218.0" width="20.8" height="22.5" fill="#2d2a80"/>
<rect x="312.0" y="1240.2" width="12.3" height="22.5" fill="#282677"/>
<rect x="324.0" y="1240.2" width="22.5" height="22.5" fill="#2d2a80"/>
<rect x="346.2" y="1240.2" width="22.5" height="22.5" fill="#353ca0"/>
<rect x="368.3" y="1240.2" width="22.5" height="22.5" fill="#4160b2"/>
<rect x="390.5" y="1240.2" width="22.5" height="22.5" fill="#afe26d"/>
<rect x="412.7" y="1240.2" width="22.5" height="22.5" fill="#f9d900"/>
<rect x="434.9" y="1240.2" width="22.5" height="22.5" fill="#f07800"/>
<rect x="457.0" y="1240.2" width="22.5" height="22.5" fill="#e03415"/>
<rect x="479.2" y="1240.2" width="22.5" height="22.5" fill="#f48900"/>
<rect x="501.4" y="1240.2" width="22.5" height="22.5" fill="#c1df38"/>
<rect x="523.5" y="1240.2" width="22.5" height="22.5" fill="#5a9ad0"/>
<rect x="545.7" y="1240.2" width="22.5" height="22.5" fill="#3b4ea9"/>
<rect x="567.9" y="1240.2" width="22.5" height="22.5" fill="#31329a"/>
<rect x="590.0" y="1240.2" width="20.8" height="22.5" fill="#2f2e8d"/>
<rect x="312.0" y="1262.4" width="12.3" height="22.5" fill="#282677"/>
<rect x="324.0" y="1262.4" width="22.5" height="22.5" fill="#2d2a80"/>
<rect x="346.2" y="1262.4" width="22.5" height="22.5" fill="#353ca0"/>
<rect x="368.3" y="1262.4" width="22.5" height="22.5" fill="#3f58ae"/>
<rect x="390.5" y="1262.4" width="22.5" height="22.5" fill="#a2e48a"/>
<rect x="412.7" y="1262.4" width="22.5" height="22.5" fill="#facd00"/>
<rect x="434.9" y="1262.4" width="22.5" height="22.5" fill="#dc281c"/>
<rect x="457.0" y="1262.4" width="22.5" height="22.5" fill="#d4271c"/>
<rect x="479.2" y="1262.4" width="22.5" height="22.5" fill="#c0241c"/>
<rect x="501.4" y="1262.4" width="22.5" height="22.5" fill="#f48900"/>
<rect x="523.5" y="1262.4" width="22.5" height="22.5" fill="#96e4d4"/>
<rect x="545.7" y="1262.4" width="22.5" height="22.5" fill="#61a6d7"/>
<rect x="567.9" y="1262.4" width="22.5" height="22.5" fill="#3947a5"/>
<rect x="590.0" y="1262.4" width="20.8" height="22.5" fill="#2f2e8d"/>
<rect x="312.0" y="1284.6" width="12.3" height="22.5" fill="#282677"/>
<rect x="324.0" y="1284.6" width="22.5" height="22.5" fill="#2f2e8d"/>
<rect x="346.2" y="1284.6" width="22.5" height="22.5" fill="#31329a"/>
<rect x="368.3" y="1284.6" width="22.5" height="22.5" fill="#446ab7"/>
<rect x="390.5" y="1284.6" width="22.5" height="22.5" fill="#afe26d"/>
<rect x="412.7" y="1284.6" width="22.5" height="22.5" fill="#f89a00"/>
<rect x="434.9" y="1284.6" width="44.6" height="22.5" fill="#b0221e"/>
<rect x="479.2" y="1284.6" width="22.5" height="22.5" fill="#c0241c"/>
<rect x="501.4" y="1284.6" width="22.5" height="22.5" fill="#ea5004"/>
<rect x="523.5" y="1284.6" width="22.5" height="22.5" fill="#ccdc00"/>
<rect x="545.7" y="1284.6" width="22.5" height="22.5" fill="#70c2e6"/>
<rect x="567.9" y="1284.6" width="22.5" height="22.5" fill="#3947a5"/>
<rect x="590.0" y="1284.6" width="20.8" height="22.5" fill="#2f2e8d"/>
<rect x="312.0" y="1306.7" width="12.3" height="22.5" fill="#282677"/>
<rect x="324.0" y="1306.7" width="22.5" height="22.5" fill="#2f2e8d"/>
<rect x="346.2" y="1306.7" width="22.5" height="22.5" fill="#3947a5"/>
<rect x="368.3" y="1306.7" width="22.5" height="22.5" fill="#4976bf"/>
<rect x="390.5" y="1306.7" width="22.5" height="22.5" fill="#c1df38"/>
<rect x="412.7" y="1306.7" width="22.5" height="22.5" fill="#f89a00"/>
<rect x="434.9" y="1306.7" width="22.5" height="22.5" fill="#e03415"/>
<rect x="457.0" y="1306.7" width="22.5" height="22.5" fill="#e4400e"/>
<rect x="479.2" y="1306.7" width="22.5" height="22.5" fill="#dc281c"/>
<rect x="501.4" y="1306.7" width="22.5" height="22.5" fill="#facd00"/>
<rect x="523.5" y="1306.7" width="22.5" height="22.5" fill="#90dcea"/>
<rect x="545.7" y="1306.7" width="22.5" height="22.5" fill="#3947a5"/>
<rect x="567.9" y="1306.7" width="22.5" height="22.5" fill="#2f2e8d"/>
<rect x="590.0" y="1306.7" width="20.8" height="22.5" fill="#2d2a80"/>
<rect x="312.0" y="1328.9" width="34.5" height="22.5" fill="#23236e"/>
<rect x="346.2" y="1328.9" width="22.5" height="22.5" fill="#2f2e8d"/>
<rect x="368.3" y="1328.9" width="22.5" height="22.5" fill="#3b4ea9"/>
<rect x="390.5" y="1328.9" width="22.5" height="22.5" fill="#61a6d7"/>
<rect x="412.7" y="1328.9" width="22.5" height="22.5" fill="#bce050"/>
<rect x="434.9" y="1328.9" width="22.5" height="22.5" fill="#facd00"/>
<rect x="457.0" y="1328.9" width="22.5" height="22.5" fill="#3947a5"/>
<rect x="479.2" y="1328.9" width="22.5" height="22.5" fill="#facd00"/>
<rect x="501.4" y="1328.9" width="22.5" height="22.5" fill="#a2e48a"/>
<rect x="523.5" y="1328.9" width="22.5" height="22.5" fill="#3f58ae"/>
<rect x="545.7" y="1328.9" width="22.5" height="22.5" fill="#31329a"/>
<rect x="567.9" y="1328.9" width="22.5" height="22.5" fill="#2d2a80"/>
<rect x="590.0" y="1328.9" width="20.8" height="22.5" fill="#23236e"/>
<rect x="312.0" y="1351.1" width="34.5" height="22.5" fill="#23236e"/>
<rect x="346.2" y="1351.1" width="22.5" height="22.5" fill="#2d2a80"/>
<rect x="368.3" y="1351.1" width="22.5" height="22.5" fill="#353ca0"/>
<rect x="390.5" y="1351.1" width="22.5" height="22.5" fill="#3947a5"/>
<rect x="412.7" y="1351.1" width="22.5" height="22.5" fill="#4160b2"/>
<rect x="434.9" y="1351.1" width="22.5" height="22.5" fill="#9ce4af"/>
<rect x="457.0" y="1351.1" width="22.5" height="22.5" fill="#c1df38"/>
<rect x="479.2" y="1351.1" width="22.5" height="22.5" fill="#96e4d4"/>
<rect x="501.4" y="1351.1" width="22.5" height="22.5" fill="#4976bf"/>
<rect x="523.5" y="1351.1" width="22.5" height="22.5" fill="#3741a2"/>
<rect x="545.7" y="1351.1" width="22.5" height="22.5" fill="#2f2e8d"/>
<rect x="567.9" y="1351.1" width="42.9" height="22.5" fill="#23236e"/>
<rect x="312.0" y="1373.2" width="56.6" height="22.5" fill="#23236e"/>
<rect x="368.3" y="1373.2" width="44.6" height="22.5" fill="#2f2e8d"/>
<rect x="412.7" y="1373.2" width="22.5" height="22.5" fill="#31329a"/>
<rect x="434.9" y="1373.2" width="22.5" height="22.5" fill="#3d54ac"/>
<rect x="457.0" y="1373.2" width="22.5" height="22.5" fill="#4976bf"/>
<rect x="479.2" y="1373.2" width="22.5" height="22.5" fill="#3d54ac"/>
<rect x="501.4" y="1373.2" width="22.5" height="22.5" fill="#3741a2"/>
<rect x="523.5" y="1373.2" width="22.5" height="22.5" fill="#2f2e8d"/>
<rect x="545.7" y="1373.2" width="65.1" height="22.5" fill="#23236e"/>
<rect x="312.0" y="1395.4" width="78.8" height="22.7" fill="#23236e"/>
<rect x="390.5" y="1395.4" width="44.6" height="22.7" fill="#2d2a80"/>
<rect x="434.9" y="1395.4" width="66.8" height="22.7" fill="#31329a"/>
<rect x="501.4" y="1395.4" width="22.5" height="22.7" fill="#2d2a80"/>
<rect x="523.5" y="1395.4" width="87.3" height="22.7" fill="#23236e"/>
</g>
<g shape-rendering="crispEdges">
<rect x="620.8" y="1157.0" width="298.2" height="260.8" fill="#2d2a80"/>
<rect x="620.8" y="1157.0" width="49.7" height="17.0" fill="#23236e"/>
<rect x="670.2" y="1157.0" width="22.5" height="17.0" fill="#2d2a80"/>
<rect x="692.4" y="1157.0" width="133.3" height="17.0" fill="#2f2e8d"/>
<rect x="825.4" y="1157.0" width="22.5" height="17.0" fill="#2d2a80"/>
<rect x="847.6" y="1157.0" width="71.7" height="17.0" fill="#23236e"/>
<rect x="620.8" y="1173.7" width="27.6" height="22.5" fill="#23236e"/>
<rect x="648.1" y="1173.7" width="22.5" height="22.5" fill="#2d2a80"/>
<rect x="670.2" y="1173.7" width="22.5" height="22.5" fill="#2f2e8d"/>
<rect x="692.4" y="1173.7" width="111.1" height="22.5" fill="#33369c"/>
<rect x="803.3" y="1173.7" width="22.5" height="22.5" fill="#31329a"/>
<rect x="825.4" y="1173.7" width="22.5" height="22.5" fill="#2f2e8d"/>
<rect x="847.6" y="1173.7" width="22.5" height="22.5" fill="#2d2a80"/>
<rect x="869.8" y="1173.7" width="49.5" height="22.5" fill="#23236e"/>
<rect x="620.8" y="1195.9" width="5.4" height="22.5" fill="#23236e"/>
<rect x="625.9" y="1195.9" width="22.5" height="22.5" fill="#2d2a80"/>
<rect x="648.1" y="1195.9" width="22.5" height="22.5" fill="#2f2e8d"/>
<rect x="670.2" y="1195.9" width="22.5" height="22.5" fill="#3741a2"/>
<rect x="692.4" y="1195.9" width="44.6" height="22.5" fill="#3947a5"/>
<rect x="736.7" y="1195.9" width="22.5" height="22.5" fill="#4160b2"/>
<rect x="758.9" y="1195.9" width="22.5" height="22.5" fill="#446ab7"/>
<rect x="781.1" y="1195.9" width="22.5" height="22.5" fill="#3d54ac"/>
<rect x="803.3" y="1195.9" width="22.5" height="22.5" fill="#3947a5"/>
<rect x="825.4" y="1195.9" width="22.5" height="22.5" fill="#3741a2"/>
<rect x="847.6" y="1195.9" width="22.5" height="22.5" fill="#31329a"/>
<rect x="869.8" y="1195.9" width="22.5" height="22.5" fill="#2d2a80"/>
<rect x="891.9" y="1195.9" width="27.4" height="22.5" fill="#23236e"/>
<rect x="620.8" y="1218.0" width="5.4" height="22.5" fill="#282677"/>
<rect x="625.9" y="1218.0" width="22.5" height="22.5" fill="#2d2a80"/>
<rect x="648.1" y="1218.0" width="22.5" height="22.5" fill="#31329a"/>
<rect x="670.2" y="1218.0" width="22.5" height="22.5" fill="#3947a5"/>
<rect x="692.4" y="1218.0" width="22.5" height="22.5" fill="#4160b2"/>
<rect x="714.6" y="1218.0" width="22.5" height="22.5" fill="#69b6df"/>
<rect x="736.7" y="1218.0" width="22.5" height="22.5" fill="#96e4d4"/>
<rect x="758.9" y="1218.0" width="22.5" height="22.5" fill="#9ee4a0"/>
<rect x="781.1" y="1218.0" width="22.5" height="22.5" fill="#80cfe8"/>
<rect x="803.3" y="1218.0" width="22.5" height="22.5" fill="#4976bf"/>
<rect x="825.4" y="1218.0" width="22.5" height="22.5" fill="#3947a5"/>
<rect x="847.6" y="1218.0" width="22.5" height="22.5" fill="#3741a2"/>
<rect x="869.8" y="1218.0" width="22.5" height="22.5" fill="#31329a"/>
<rect x="891.9" y="1218.0" width="22.5" height="22.5" fill="#2d2a80"/>
<rect x="914.1" y="1218.0" width="5.2" height="22.5" fill="#23236e"/>
<rect x="620.8" y="1240.2" width="5.4" height="22.5" fill="#282677"/>
<rect x="625.9" y="1240.2" width="22.5" height="22.5" fill="#2d2a80"/>
<rect x="648.1" y="1240.2" width="22.5" height="22.5" fill="#31329a"/>
<rect x="670.2" y="1240.2" width="22.5" height="22.5" fill="#3b4ea9"/>
<rect x="692.4" y="1240.2" width="22.5" height="22.5" fill="#90dcea"/>
<rect x="714.6" y="1240.2" width="22.5" height="22.5" fill="#e6e000"/>
<rect x="736.7" y="1240.2" width="22.5" height="22.5" fill="#fad300"/>
<rect x="758.9" y="1240.2" width="22.5" height="22.5" fill="#f89a00"/>
<rect x="781.1" y="1240.2" width="22.5" height="22.5" fill="#f8e200"/>
<rect x="803.3" y="1240.2" width="22.5" height="22.5" fill="#9ce4af"/>
<rect x="825.4" y="1240.2" width="22.5" height="22.5" fill="#4976bf"/>
<rect x="847.6" y="1240.2" width="22.5" height="22.5" fill="#3947a5"/>
<rect x="869.8" y="1240.2" width="22.5" height="22.5" fill="#31329a"/>
<rect x="891.9" y="1240.2" width="22.5" height="22.5" fill="#2f2e8d"/>
<rect x="914.1" y="1240.2" width="5.2" height="22.5" fill="#23236e"/>
<rect x="620.8" y="1262.4" width="5.4" height="22.5" fill="#282677"/>
<rect x="625.9" y="1262.4" width="22.5" height="22.5" fill="#31329a"/>
<rect x="648.1" y="1262.4" width="22.5" height="22.5" fill="#3947a5"/>
<rect x="670.2" y="1262.4" width="22.5" height="22.5" fill="#61a6d7"/>
<rect x="692.4" y="1262.4" width="22.5" height="22.5" fill="#e6e000"/>
<rect x="714.6" y="1262.4" width="22.5" height="22.5" fill="#f07800"/>
<rect x="736.7" y="1262.4" width="22.5" height="22.5" fill="#dc281c"/>
<rect x="758.9" y="1262.4" width="22.5" height="22.5" fill="#c0241c"/>
<rect x="781.1" y="1262.4" width="22.5" height="22.5" fill="#dc281c"/>
<rect x="803.3" y="1262.4" width="22.5" height="22.5" fill="#ebe100"/>
<rect x="825.4" y="1262.4" width="22.5" height="22.5" fill="#70c2e6"/>
<rect x="847.6" y="1262.4" width="22.5" height="22.5" fill="#3d54ac"/>
<rect x="869.8" y="1262.4" width="22.5" height="22.5" fill="#3741a2"/>
<rect x="891.9" y="1262.4" width="22.5" height="22.5" fill="#31329a"/>
<rect x="914.1" y="1262.4" width="5.2" height="22.5" fill="#23236e"/>
<rect x="620.8" y="1284.6" width="5.4" height="22.5" fill="#282677"/>
<rect x="625.9" y="1284.6" width="22.5" height="22.5" fill="#2f2e8d"/>
<rect x="648.1" y="1284.6" width="22.5" height="22.5" fill="#353ca0"/>
<rect x="670.2" y="1284.6" width="22.5" height="22.5" fill="#4976bf"/>
<rect x="692.4" y="1284.6" width="22.5" height="22.5" fill="#d4dd00"/>
<rect x="714.6" y="1284.6" width="22.5" height="22.5" fill="#e4400e"/>
<rect x="736.7" y="1284.6" width="22.5" height="22.5" fill="#b0221e"/>
<rect x="758.9" y="1284.6" width="22.5" height="22.5" fill="#841816"/>
<rect x="781.1" y="1284.6" width="22.5" height="22.5" fill="#921c1b"/>
<rect x="803.3" y="1284.6" width="22.5" height="22.5" fill="#e4400e"/>
<rect x="825.4" y="1284.6" width="22.5" height="22.5" fill="#a2e48a"/>
<rect x="847.6" y="1284.6" width="22.5" height="22.5" fill="#5a9ad0"/>
<rect x="869.8" y="1284.6" width="22.5" height="22.5" fill="#353ca0"/>
<rect x="891.9" y="1284.6" width="22.5" height="22.5" fill="#2d2a80"/>
<rect x="914.1" y="1284.6" width="5.2" height="22.5" fill="#23236e"/>
<rect x="620.8" y="1306.7" width="5.4" height="22.5" fill="#282677"/>
<rect x="625.9" y="1306.7" width="22.5" height="22.5" fill="#2d2a80"/>
<rect x="648.1" y="1306.7" width="22.5" height="22.5" fill="#31329a"/>
<rect x="670.2" y="1306.7" width="22.5" height="22.5" fill="#4160b2"/>
<rect x="692.4" y="1306.7" width="22.5" height="22.5" fill="#c1df38"/>
<rect x="714.6" y="1306.7" width="22.5" height="22.5" fill="#ed6402"/>
<rect x="736.7" y="1306.7" width="22.5" height="22.5" fill="#d4271c"/>
<rect x="758.9" y="1306.7" width="22.5" height="22.5" fill="#c0241c"/>
<rect x="781.1" y="1306.7" width="22.5" height="22.5" fill="#b0221e"/>
<rect x="803.3" y="1306.7" width="22.5" height="22.5" fill="#dc281c"/>
<rect x="825.4" y="1306.7" width="22.5" height="22.5" fill="#d9de00"/>
<rect x="847.6" y="1306.7" width="22.5" height="22.5" fill="#5088c8"/>
<rect x="869.8" y="1306.7" width="22.5" height="22.5" fill="#353ca0"/>
<rect x="891.9" y="1306.7" width="22.5" height="22.5" fill="#2d2a80"/>
<rect x="914.1" y="1306.7" width="5.2" height="22.5" fill="#23236e"/>
<rect x="620.8" y="1328.9" width="27.6" height="22.5" fill="#23236e"/>
<rect x="648.1" y="1328.9" width="22.5" height="22.5" fill="#2f2e8d"/>
<rect x="670.2" y="1328.9" width="22.5" height="22.5" fill="#3947a5"/>
<rect x="692.4" y="1328.9" width="22.5" height="22.5" fill="#69b6df"/>
<rect x="714.6" y="1328.9" width="22.5" height="22.5" fill="#d4dd00"/>
<rect x="736.7" y="1328.9" width="22.5" height="22.5" fill="#f07800"/>
<rect x="758.9" y="1328.9" width="22.5" height="22.5" fill="#ea5004"/>
<rect x="781.1" y="1328.9" width="22.5" height="22.5" fill="#e4400e"/>
<rect x="803.3" y="1328.9" width="22.5" height="22.5" fill="#fab700"/>
<rect x="825.4" y="1328.9" width="22.5" height="22.5" fill="#9ae4be"/>
<rect x="847.6" y="1328.9" width="22.5" height="22.5" fill="#3d54ac"/>
<rect x="869.8" y="1328.9" width="22.5" height="22.5" fill="#2f2e8d"/>
<rect x="891.9" y="1328.9" width="22.5" height="22.5" fill="#2d2a80"/>
<rect x="914.1" y="1328.9" width="5.2" height="22.5" fill="#23236e"/>
<rect x="620.8" y="1351.1" width="27.6" height="22.5" fill="#23236e"/>
<rect x="648.1" y="1351.1" width="22.5" height="22.5" fill="#2d2a80"/>
<rect x="670.2" y="1351.1" width="22.5" height="22.5" fill="#31329a"/>
<rect x="692.4" y="1351.1" width="22.5" height="22.5" fill="#3b4ea9"/>
<rect x="714.6" y="1351.1" width="22.5" height="22.5" fill="#5088c8"/>
<rect x="736.7" y="1351.1" width="22.5" height="22.5" fill="#bce050"/>
<rect x="758.9" y="1351.1" width="22.5" height="22.5" fill="#f8e200"/>
<rect x="781.1" y="1351.1" width="22.5" height="22.5" fill="#d9de00"/>
<rect x="803.3" y="1351.1" width="22.5" height="22.5" fill="#96e4d4"/>
<rect x="825.4" y="1351.1" width="22.5" height="22.5" fill="#3d54ac"/>
<rect x="847.6" y="1351.1" width="22.5" height="22.5" fill="#31329a"/>
<rect x="869.8" y="1351.1" width="22.5" height="22.5" fill="#2d2a80"/>
<rect x="891.9" y="1351.1" width="27.4" height="22.5" fill="#23236e"/>
<rect x="620.8" y="1373.2" width="71.9" height="22.5" fill="#23236e"/>
<rect x="692.4" y="1373.2" width="22.5" height="22.5" fill="#31329a"/>
<rect x="714.6" y="1373.2" width="22.5" height="22.5" fill="#353ca0"/>
<rect x="736.7" y="1373.2" width="22.5" height="22.5" fill="#3b4ea9"/>
<rect x="758.9" y="1373.2" width="22.5" height="22.5" fill="#69b6df"/>
<rect x="781.1" y="1373.2" width="22.5" height="22.5" fill="#61a6d7"/>
<rect x="803.3" y="1373.2" width="22.5" height="22.5" fill="#3d54ac"/>
<rect x="825.4" y="1373.2" width="22.5" height="22.5" fill="#353ca0"/>
<rect x="847.6" y="1373.2" width="22.5" height="22.5" fill="#2d2a80"/>
<rect x="869.8" y="1373.2" width="49.5" height="22.5" fill="#23236e"/>
<rect x="620.8" y="1395.4" width="71.9" height="22.7" fill="#23236e"/>
<rect x="692.4" y="1395.4" width="44.6" height="22.7" fill="#2d2a80"/>
<rect x="736.7" y="1395.4" width="22.5" height="22.7" fill="#31329a"/>
<rect x="758.9" y="1395.4" width="44.6" height="22.7" fill="#353ca0"/>
<rect x="803.3" y="1395.4" width="22.5" height="22.7" fill="#31329a"/>
<rect x="825.4" y="1395.4" width="22.5" height="22.7" fill="#2d2a80"/>
<rect x="847.6" y="1395.4" width="71.7" height="22.7" fill="#23236e"/>
</g>
<g shape-rendering="crispEdges">
<rect x="929.2" y="1157.0" width="298.5" height="260.8" fill="#2d2a80"/>
<rect x="929.2" y="1157.0" width="38.9" height="10.3" fill="#23236e"/>
<rect x="967.8" y="1157.0" width="44.5" height="10.3" fill="#2d2a80"/>
<rect x="1012.0" y="1157.0" width="132.9" height="10.3" fill="#2f2e8d"/>
<rect x="1144.6" y="1157.0" width="22.4" height="10.3" fill="#2d2a80"/>
<rect x="1166.7" y="1157.0" width="61.3" height="10.3" fill="#23236e"/>
<rect x="929.2" y="1167.0" width="16.8" height="22.5" fill="#23236e"/>
<rect x="945.7" y="1167.0" width="22.4" height="22.5" fill="#2d2a80"/>
<rect x="967.8" y="1167.0" width="44.5" height="22.5" fill="#31329a"/>
<rect x="1012.0" y="1167.0" width="22.4" height="22.5" fill="#353ca0"/>
<rect x="1034.1" y="1167.0" width="22.4" height="22.5" fill="#3741a2"/>
<rect x="1056.2" y="1167.0" width="22.4" height="22.5" fill="#3947a5"/>
<rect x="1078.3" y="1167.0" width="22.4" height="22.5" fill="#3741a2"/>
<rect x="1100.4" y="1167.0" width="22.4" height="22.5" fill="#353ca0"/>
<rect x="1122.5" y="1167.0" width="44.5" height="22.5" fill="#31329a"/>
<rect x="1166.7" y="1167.0" width="22.4" height="22.5" fill="#2d2a80"/>
<rect x="1188.8" y="1167.0" width="39.2" height="22.5" fill="#23236e"/>
<rect x="929.2" y="1189.2" width="16.8" height="22.5" fill="#23236e"/>
<rect x="945.7" y="1189.2" width="22.4" height="22.5" fill="#2f2e8d"/>
<rect x="967.8" y="1189.2" width="22.4" height="22.5" fill="#31329a"/>
<rect x="989.9" y="1189.2" width="22.4" height="22.5" fill="#3741a2"/>
<rect x="1012.0" y="1189.2" width="22.4" height="22.5" fill="#3947a5"/>
<rect x="1034.1" y="1189.2" width="22.4" height="22.5" fill="#3d54ac"/>
<rect x="1056.2" y="1189.2" width="22.4" height="22.5" fill="#446ab7"/>
<rect x="1078.3" y="1189.2" width="22.4" height="22.5" fill="#4976bf"/>
<rect x="1100.4" y="1189.2" width="22.4" height="22.5" fill="#3b4ea9"/>
<rect x="1122.5" y="1189.2" width="22.4" height="22.5" fill="#3947a5"/>
<rect x="1144.6" y="1189.2" width="22.4" height="22.5" fill="#353ca0"/>
<rect x="1166.7" y="1189.2" width="22.4" height="22.5" fill="#2f2e8d"/>
<rect x="1188.8" y="1189.2" width="22.4" height="22.5" fill="#2d2a80"/>
<rect x="1210.9" y="1189.2" width="17.1" height="22.5" fill="#23236e"/>
<rect x="929.2" y="1211.3" width="16.8" height="22.5" fill="#23236e"/>
<rect x="945.7" y="1211.3" width="22.4" height="22.5" fill="#2f2e8d"/>
<rect x="967.8" y="1211.3" width="22.4" height="22.5" fill="#353ca0"/>
<rect x="989.9" y="1211.3" width="22.4" height="22.5" fill="#3b4ea9"/>
<rect x="1012.0" y="1211.3" width="22.4" height="22.5" fill="#5a9ad0"/>
<rect x="1034.1" y="1211.3" width="22.4" height="22.5" fill="#92dee3"/>
<rect x="1056.2" y="1211.3" width="44.5" height="22.5" fill="#a2e48a"/>
<rect x="1100.4" y="1211.3" width="22.4" height="22.5" fill="#92dee3"/>
<rect x="1122.5" y="1211.3" width="22.4" height="22.5" fill="#5088c8"/>
<rect x="1144.6" y="1211.3" width="22.4" height="22.5" fill="#3b4ea9"/>
<rect x="1166.7" y="1211.3" width="22.4" height="22.5" fill="#3741a2"/>
<rect x="1188.8" y="1211.3" width="22.4" height="22.5" fill="#31329a"/>
<rect x="1210.9" y="1211.3" width="17.1" height="22.5" fill="#2d2a80"/>
<rect x="929.2" y="1233.5" width="16.8" height="22.5" fill="#23236e"/>
<rect x="945.7" y="1233.5" width="22.4" height="22.5" fill="#2f2e8d"/>
<rect x="967.8" y="1233.5" width="22.4" height="22.5" fill="#353ca0"/>
<rect x="989.9" y="1233.5" width="22.4" height="22.5" fill="#446ab7"/>
<rect x="1012.0" y="1233.5" width="22.4" height="22.5" fill="#9ce4af"/>
<rect x="1034.1" y="1233.5" width="22.4" height="22.5" fill="#d9de00"/>
<rect x="1056.2" y="1233.5" width="22.4" height="22.5" fill="#fad300"/>
<rect x="1078.3" y="1233.5" width="22.4" height="22.5" fill="#fab700"/>
<rect x="1100.4" y="1233.5" width="22.4" height="22.5" fill="#ebe100"/>
<rect x="1122.5" y="1233.5" width="22.4" height="22.5" fill="#96e4d4"/>
<rect x="1144.6" y="1233.5" width="22.4" height="22.5" fill="#4976bf"/>
<rect x="1166.7" y="1233.5" width="22.4" height="22.5" fill="#3b4ea9"/>
<rect x="1188.8" y="1233.5" width="22.4" height="22.5" fill="#31329a"/>
<rect x="1210.9" y="1233.5" width="17.1" height="22.5" fill="#2f2e8d"/>
<rect x="929.2" y="1255.7" width="16.8" height="22.5" fill="#2d2a80"/>
<rect x="945.7" y="1255.7" width="22.4" height="22.5" fill="#31329a"/>
<rect x="967.8" y="1255.7" width="22.4" height="22.5" fill="#3947a5"/>
<rect x="989.9" y="1255.7" width="22.4" height="22.5" fill="#61a6d7"/>
<rect x="1012.0" y="1255.7" width="22.4" height="22.5" fill="#d4dd00"/>
<rect x="1034.1" y="1255.7" width="22.4" height="22.5" fill="#fab700"/>
<rect x="1056.2" y="1255.7" width="22.4" height="22.5" fill="#e4400e"/>
<rect x="1078.3" y="1255.7" width="22.4" height="22.5" fill="#dc281c"/>
<rect x="1100.4" y="1255.7" width="22.4" height="22.5" fill="#e03415"/>
<rect x="1122.5" y="1255.7" width="22.4" height="22.5" fill="#f3e100"/>
<rect x="1144.6" y="1255.7" width="22.4" height="22.5" fill="#92dee3"/>
<rect x="1166.7" y="1255.7" width="22.4" height="22.5" fill="#5088c8"/>
<rect x="1188.8" y="1255.7" width="22.4" height="22.5" fill="#3741a2"/>
<rect x="1210.9" y="1255.7" width="17.1" height="22.5" fill="#31329a"/>
<rect x="929.2" y="1277.9" width="16.8" height="22.5" fill="#2d2a80"/>
<rect x="945.7" y="1277.9" width="22.4" height="22.5" fill="#2f2e8d"/>
<rect x="967.8" y="1277.9" width="22.4" height="22.5" fill="#3741a2"/>
<rect x="989.9" y="1277.9" width="22.4" height="22.5" fill="#5a9ad0"/>
<rect x="1012.0" y="1277.9" width="22.4" height="22.5" fill="#c1df38"/>
<rect x="1034.1" y="1277.9" width="22.4" height="22.5" fill="#f89a00"/>
<rect x="1056.2" y="1277.9" width="66.6" height="22.5" fill="#dc281c"/>
<rect x="1122.5" y="1277.9" width="22.4" height="22.5" fill="#f8e200"/>
<rect x="1144.6" y="1277.9" width="22.4" height="22.5" fill="#9ee4a0"/>
<rect x="1166.7" y="1277.9" width="22.4" height="22.5" fill="#4976bf"/>
<rect x="1188.8" y="1277.9" width="22.4" height="22.5" fill="#353ca0"/>
<rect x="1210.9" y="1277.9" width="17.1" height="22.5" fill="#2f2e8d"/>
<rect x="929.2" y="1300.0" width="16.8" height="22.5" fill="#23236e"/>
<rect x="945.7" y="1300.0" width="22.4" height="22.5" fill="#2d2a80"/>
<rect x="967.8" y="1300.0" width="22.4" height="22.5" fill="#353ca0"/>
<rect x="989.9" y="1300.0" width="22.4" height="22.5" fill="#446ab7"/>
<rect x="1012.0" y="1300.0" width="22.4" height="22.5" fill="#afe26d"/>
<rect x="1034.1" y="1300.0" width="22.4" height="22.5" fill="#fad300"/>
<rect x="1056.2" y="1300.0" width="22.4" height="22.5" fill="#ed6402"/>
<rect x="1078.3" y="1300.0" width="22.4" height="22.5" fill="#ea5004"/>
<rect x="1100.4" y="1300.0" width="22.4" height="22.5" fill="#e03415"/>
<rect x="1122.5" y="1300.0" width="22.4" height="22.5" fill="#f8e200"/>
<rect x="1144.6" y="1300.0" width="22.4" height="22.5" fill="#96e4d4"/>
<rect x="1166.7" y="1300.0" width="22.4" height="22.5" fill="#3b4ea9"/>
<rect x="1188.8" y="1300.0" width="22.4" height="22.5" fill="#31329a"/>
<rect x="1210.9" y="1300.0" width="17.1" height="22.5" fill="#2d2a80"/>
<rect x="929.2" y="1322.2" width="16.8" height="22.5" fill="#23236e"/>
<rect x="945.7" y="1322.2" width="22.4" height="22.5" fill="#2d2a80"/>
<rect x="967.8" y="1322.2" width="22.4" height="22.5" fill="#31329a"/>
<rect x="989.9" y="1322.2" width="22.4" height="22.5" fill="#3947a5"/>
<rect x="1012.0" y="1322.2" width="22.4" height="22.5" fill="#5a9ad0"/>
<rect x="1034.1" y="1322.2" width="22.4" height="22.5" fill="#9ce4af"/>
<rect x="1056.2" y="1322.2" width="22.4" height="22.5" fill="#efe100"/>
<rect x="1078.3" y="1322.2" width="22.4" height="22.5" fill="#fad300"/>
<rect x="1100.4" y="1322.2" width="22.4" height="22.5" fill="#faca00"/>
<rect x="1122.5" y="1322.2" width="22.4" height="22.5" fill="#bce050"/>
<rect x="1144.6" y="1322.2" width="22.4" height="22.5" fill="#5088c8"/>
<rect x="1166.7" y="1322.2" width="22.4" height="22.5" fill="#3947a5"/>
<rect x="1188.8" y="1322.2" width="22.4" height="22.5" fill="#2f2e8d"/>
<rect x="1210.9" y="1322.2" width="17.1" height="22.5" fill="#2d2a80"/>
<rect x="929.2" y="1344.4" width="38.9" height="22.5" fill="#23236e"/>
<rect x="967.8" y="1344.4" width="22.4" height="22.5" fill="#2d2a80"/>
<rect x="989.9" y="1344.4" width="22.4" height="22.5" fill="#31329a"/>
<rect x="1012.0" y="1344.4" width="22.4" height="22.5" fill="#3947a5"/>
<rect x="1034.1" y="1344.4" width="22.4" height="22.5" fill="#3d54ac"/>
<rect x="1056.2" y="1344.4" width="22.4" height="22.5" fill="#96e4d4"/>
<rect x="1078.3" y="1344.4" width="22.4" height="22.5" fill="#a2e48a"/>
<rect x="1100.4" y="1344.4" width="22.4" height="22.5" fill="#93e0df"/>
<rect x="1122.5" y="1344.4" width="22.4" height="22.5" fill="#4976bf"/>
<rect x="1144.6" y="1344.4" width="22.4" height="22.5" fill="#3947a5"/>
<rect x="1166.7" y="1344.4" width="22.4" height="22.5" fill="#31329a"/>
<rect x="1188.8" y="1344.4" width="39.2" height="22.5" fill="#23236e"/>
<rect x="929.2" y="1366.5" width="61.0" height="22.5" fill="#23236e"/>
<rect x="989.9" y="1366.5" width="22.4" height="22.5" fill="#2d2a80"/>
<rect x="1012.0" y="1366.5" width="22.4" height="22.5" fill="#2f2e8d"/>
<rect x="1034.1" y="1366.5" width="22.4" height="22.5" fill="#31329a"/>
<rect x="1056.2" y="1366.5" width="22.4" height="22.5" fill="#3947a5"/>
<rect x="1078.3" y="1366.5" width="22.4" height="22.5" fill="#3d54ac"/>
<rect x="1100.4" y="1366.5" width="22.4" height="22.5" fill="#3947a5"/>
<rect x="1122.5" y="1366.5" width="22.4" height="22.5" fill="#353ca0"/>
<rect x="1144.6" y="1366.5" width="83.4" height="22.5" fill="#23236e"/>
<rect x="929.2" y="1388.7" width="83.1" height="22.5" fill="#23236e"/>
<rect x="1012.0" y="1388.7" width="22.4" height="22.5" fill="#2d2a80"/>
<rect x="1034.1" y="1388.7" width="22.4" height="22.5" fill="#2f2e8d"/>
<rect x="1056.2" y="1388.7" width="22.4" height="22.5" fill="#31329a"/>
<rect x="1078.3" y="1388.7" width="22.4" height="22.5" fill="#2d2a80"/>
<rect x="1100.4" y="1388.7" width="22.4" height="22.5" fill="#31329a"/>
<rect x="1122.5" y="1388.7" width="22.4" height="22.5" fill="#2d2a80"/>
<rect x="1144.6" y="1388.7" width="83.4" height="22.5" fill="#23236e"/>
<rect x="929.2" y="1410.9" width="127.3" height="7.2" fill="#23236e"/>
<rect x="1056.2" y="1410.9" width="66.6" height="7.2" fill="#2d2a80"/>
<rect x="1122.5" y="1410.9" width="105.5" height="7.2" fill="#23236e"/>
</g>
<g shape-rendering="crispEdges">
<rect x="1238.1" y="1157.0" width="297.6" height="260.8" fill="#2d2a80"/>
<rect x="1238.1" y="1157.0" width="23.0" height="23.0" fill="#2d2a80"/>
<rect x="1260.8" y="1157.0" width="22.5" height="23.0" fill="#303092"/>
<rect x="1283.0" y="1157.0" width="44.6" height="23.0" fill="#31329a"/>
<rect x="1327.3" y="1157.0" width="66.8" height="23.0" fill="#353ca0"/>
<rect x="1393.8" y="1157.0" width="44.6" height="23.0" fill="#31329a"/>
<rect x="1438.2" y="1157.0" width="22.5" height="23.0" fill="#2f2e8d"/>
<rect x="1460.3" y="1157.0" width="22.5" height="23.0" fill="#2d2a80"/>
<rect x="1482.5" y="1157.0" width="53.5" height="23.0" fill="#23236e"/>
<rect x="1238.1" y="1179.7" width="23.0" height="22.5" fill="#2d2a80"/>
<rect x="1260.8" y="1179.7" width="22.5" height="22.5" fill="#31329a"/>
<rect x="1283.0" y="1179.7" width="22.5" height="22.5" fill="#353ca0"/>
<rect x="1305.1" y="1179.7" width="22.5" height="22.5" fill="#3741a2"/>
<rect x="1327.3" y="1179.7" width="89.0" height="22.5" fill="#3947a5"/>
<rect x="1416.0" y="1179.7" width="22.5" height="22.5" fill="#3741a2"/>
<rect x="1438.2" y="1179.7" width="22.5" height="22.5" fill="#31329a"/>
<rect x="1460.3" y="1179.7" width="22.5" height="22.5" fill="#2f2e8d"/>
<rect x="1482.5" y="1179.7" width="53.5" height="22.5" fill="#23236e"/>
<rect x="1238.1" y="1201.9" width="23.0" height="22.5" fill="#2f2e8d"/>
<rect x="1260.8" y="1201.9" width="22.5" height="22.5" fill="#3741a2"/>
<rect x="1283.0" y="1201.9" width="22.5" height="22.5" fill="#3947a5"/>
<rect x="1305.1" y="1201.9" width="22.5" height="22.5" fill="#4976bf"/>
<rect x="1327.3" y="1201.9" width="22.5" height="22.5" fill="#69b6df"/>
<rect x="1349.5" y="1201.9" width="22.5" height="22.5" fill="#86d4e9"/>
<rect x="1371.7" y="1201.9" width="22.5" height="22.5" fill="#80cfe8"/>
<rect x="1393.8" y="1201.9" width="22.5" height="22.5" fill="#5a9ad0"/>
<rect x="1416.0" y="1201.9" width="22.5" height="22.5" fill="#2e2c88"/>
<rect x="1438.2" y="1201.9" width="22.5" height="22.5" fill="#3947a5"/>
<rect x="1460.3" y="1201.9" width="22.5" height="22.5" fill="#3741a2"/>
<rect x="1482.5" y="1201.9" width="22.5" height="22.5" fill="#2f2e8d"/>
<rect x="1504.7" y="1201.9" width="31.3" height="22.5" fill="#23236e"/>
<rect x="1238.1" y="1224.0" width="23.0" height="22.5" fill="#2f2e8d"/>
<rect x="1260.8" y="1224.0" width="22.5" height="22.5" fill="#3741a2"/>
<rect x="1283.0" y="1224.0" width="22.5" height="22.5" fill="#4160b2"/>
<rect x="1305.1" y="1224.0" width="22.5" height="22.5" fill="#90dcea"/>
<rect x="1327.3" y="1224.0" width="22.5" height="22.5" fill="#b4e161"/>
<rect x="1349.5" y="1224.0" width="22.5" height="22.5" fill="#ccdc00"/>
<rect x="1371.7" y="1224.0" width="22.5" height="22.5" fill="#c7dd18"/>
<rect x="1393.8" y="1224.0" width="22.5" height="22.5" fill="#9ce4af"/>
<rect x="1416.0" y="1224.0" width="22.5" height="22.5" fill="#69b6df"/>
<rect x="1438.2" y="1224.0" width="22.5" height="22.5" fill="#3b4ea9"/>
<rect x="1460.3" y="1224.0" width="22.5" height="22.5" fill="#3741a2"/>
<rect x="1482.5" y="1224.0" width="22.5" height="22.5" fill="#2f2e8d"/>
<rect x="1504.7" y="1224.0" width="31.3" height="22.5" fill="#23236e"/>
<rect x="1238.1" y="1246.2" width="23.0" height="22.5" fill="#2d2a80"/>
<rect x="1260.8" y="1246.2" width="22.5" height="22.5" fill="#2f2e8d"/>
<rect x="1283.0" y="1246.2" width="22.5" height="22.5" fill="#3947a5"/>
<rect x="1305.1" y="1246.2" width="22.5" height="22.5" fill="#69b6df"/>
<rect x="1327.3" y="1246.2" width="22.5" height="22.5" fill="#ccdc00"/>
<rect x="1349.5" y="1246.2" width="22.5" height="22.5" fill="#f8e200"/>
<rect x="1371.7" y="1246.2" width="22.5" height="22.5" fill="#fad300"/>
<rect x="1393.8" y="1246.2" width="22.5" height="22.5" fill="#f4e200"/>
<rect x="1416.0" y="1246.2" width="22.5" height="22.5" fill="#b7e15c"/>
<rect x="1438.2" y="1246.2" width="22.5" height="22.5" fill="#5a9ad0"/>
<rect x="1460.3" y="1246.2" width="22.5" height="22.5" fill="#3b4ea9"/>
<rect x="1482.5" y="1246.2" width="22.5" height="22.5" fill="#353ca0"/>
<rect x="1504.7" y="1246.2" width="22.5" height="22.5" fill="#2f2e8d"/>
<rect x="1526.8" y="1246.2" width="9.2" height="22.5" fill="#23236e"/>
<rect x="1238.1" y="1268.4" width="23.0" height="22.5" fill="#23236e"/>
<rect x="1260.8" y="1268.4" width="22.5" height="22.5" fill="#2d2a80"/>
<rect x="1283.0" y="1268.4" width="22.5" height="22.5" fill="#3741a2"/>
<rect x="1305.1" y="1268.4" width="22.5" height="22.5" fill="#70c2e6"/>
<rect x="1327.3" y="1268.4" width="22.5" height="22.5" fill="#c1df38"/>
<rect x="1349.5" y="1268.4" width="22.5" height="22.5" fill="#faaf00"/>
<rect x="1371.7" y="1268.4" width="22.5" height="22.5" fill="#f07800"/>
<rect x="1393.8" y="1268.4" width="22.5" height="22.5" fill="#ed6402"/>
<rect x="1416.0" y="1268.4" width="22.5" height="22.5" fill="#fbc400"/>
<rect x="1438.2" y="1268.4" width="22.5" height="22.5" fill="#92dee3"/>
<rect x="1460.3" y="1268.4" width="22.5" height="22.5" fill="#4976bf"/>
<rect x="1482.5" y="1268.4" width="22.5" height="22.5" fill="#3741a2"/>
<rect x="1504.7" y="1268.4" width="22.5" height="22.5" fill="#31329a"/>
<rect x="1526.8" y="1268.4" width="9.2" height="22.5" fill="#2f2e8d"/>
<rect x="1238.1" y="1290.6" width="23.0" height="22.5" fill="#23236e"/>
<rect x="1260.8" y="1290.6" width="22.5" height="22.5" fill="#2d2a80"/>
<rect x="1283.0" y="1290.6" width="22.5" height="22.5" fill="#31329a"/>
<rect x="1305.1" y="1290.6" width="22.5" height="22.5" fill="#4160b2"/>
<rect x="1327.3" y="1290.6" width="22.5" height="22.5" fill="#9ae4be"/>
<rect x="1349.5" y="1290.6" width="22.5" height="22.5" fill="#f8e200"/>
<rect x="1371.7" y="1290.6" width="22.5" height="22.5" fill="#faaf00"/>
<rect x="1393.8" y="1290.6" width="22.5" height="22.5" fill="#ea5004"/>
<rect x="1416.0" y="1290.6" width="22.5" height="22.5" fill="#f89a00"/>
<rect x="1438.2" y="1290.6" width="22.5" height="22.5" fill="#aae379"/>
<rect x="1460.3" y="1290.6" width="22.5" height="22.5" fill="#61a6d7"/>
<rect x="1482.5" y="1290.6" width="22.5" height="22.5" fill="#3741a2"/>
<rect x="1504.7" y="1290.6" width="22.5" height="22.5" fill="#31329a"/>
<rect x="1526.8" y="1290.6" width="9.2" height="22.5" fill="#2f2e8d"/>
<rect x="1238.1" y="1312.7" width="23.0" height="22.5" fill="#23236e"/>
<rect x="1260.8" y="1312.7" width="22.5" height="22.5" fill="#2d2a80"/>
<rect x="1283.0" y="1312.7" width="22.5" height="22.5" fill="#31329a"/>
<rect x="1305.1" y="1312.7" width="22.5" height="22.5" fill="#3947a5"/>
<rect x="1327.3" y="1312.7" width="22.5" height="22.5" fill="#5a9ad0"/>
<rect x="1349.5" y="1312.7" width="22.5" height="22.5" fill="#bce050"/>
<rect x="1371.7" y="1312.7" width="22.5" height="22.5" fill="#ebe100"/>
<rect x="1393.8" y="1312.7" width="44.6" height="22.5" fill="#f8e200"/>
<rect x="1438.2" y="1312.7" width="22.5" height="22.5" fill="#9ae4be"/>
<rect x="1460.3" y="1312.7" width="22.5" height="22.5" fill="#5088c8"/>
<rect x="1482.5" y="1312.7" width="22.5" height="22.5" fill="#3741a2"/>
<rect x="1504.7" y="1312.7" width="22.5" height="22.5" fill="#2f2e8d"/>
<rect x="1526.8" y="1312.7" width="9.2" height="22.5" fill="#282677"/>
<rect x="1238.1" y="1334.9" width="45.2" height="22.5" fill="#23236e"/>
<rect x="1283.0" y="1334.9" width="22.5" height="22.5" fill="#2f2e8d"/>
<rect x="1305.1" y="1334.9" width="22.5" height="22.5" fill="#3741a2"/>
<rect x="1327.3" y="1334.9" width="22.5" height="22.5" fill="#3b4ea9"/>
<rect x="1349.5" y="1334.9" width="22.5" height="22.5" fill="#96e4d4"/>
<rect x="1371.7" y="1334.9" width="22.5" height="22.5" fill="#aae379"/>
<rect x="1393.8" y="1334.9" width="22.5" height="22.5" fill="#b4e161"/>
<rect x="1416.0" y="1334.9" width="22.5" height="22.5" fill="#9ce4af"/>
<rect x="1438.2" y="1334.9" width="22.5" height="22.5" fill="#5088c8"/>
<rect x="1460.3" y="1334.9" width="22.5" height="22.5" fill="#3947a5"/>
<rect x="1482.5" y="1334.9" width="22.5" height="22.5" fill="#2f2e8d"/>
<rect x="1504.7" y="1334.9" width="22.5" height="22.5" fill="#2d2a80"/>
<rect x="1526.8" y="1334.9" width="9.2" height="22.5" fill="#23236e"/>
<rect x="1238.1" y="1357.1" width="45.2" height="22.5" fill="#23236e"/>
<rect x="1283.0" y="1357.1" width="22.5" height="22.5" fill="#2d2a80"/>
<rect x="1305.1" y="1357.1" width="22.5" height="22.5" fill="#2f2e8d"/>
<rect x="1327.3" y="1357.1" width="22.5" height="22.5" fill="#3741a2"/>
<rect x="1349.5" y="1357.1" width="22.5" height="22.5" fill="#5088c8"/>
<rect x="1371.7" y="1357.1" width="22.5" height="22.5" fill="#61a6d7"/>
<rect x="1393.8" y="1357.1" width="22.5" height="22.5" fill="#5088c8"/>
<rect x="1416.0" y="1357.1" width="22.5" height="22.5" fill="#4160b2"/>
<rect x="1438.2" y="1357.1" width="22.5" height="22.5" fill="#3947a5"/>
<rect x="1460.3" y="1357.1" width="22.5" height="22.5" fill="#31329a"/>
<rect x="1482.5" y="1357.1" width="22.5" height="22.5" fill="#2d2a80"/>
<rect x="1504.7" y="1357.1" width="31.3" height="22.5" fill="#23236e"/>
<rect x="1238.1" y="1379.2" width="67.3" height="22.5" fill="#23236e"/>
<rect x="1305.1" y="1379.2" width="22.5" height="22.5" fill="#2d2a80"/>
<rect x="1327.3" y="1379.2" width="22.5" height="22.5" fill="#2f2e8d"/>
<rect x="1349.5" y="1379.2" width="44.6" height="22.5" fill="#3741a2"/>
<rect x="1393.8" y="1379.2" width="44.6" height="22.5" fill="#353ca0"/>
<rect x="1438.2" y="1379.2" width="22.5" height="22.5" fill="#2f2e8d"/>
<rect x="1460.3" y="1379.2" width="22.5" height="22.5" fill="#2d2a80"/>
<rect x="1482.5" y="1379.2" width="53.5" height="22.5" fill="#23236e"/>
<rect x="1238.1" y="1401.4" width="111.7" height="16.7" fill="#23236e"/>
<rect x="1349.5" y="1401.4" width="89.0" height="16.7" fill="#2f2e8d"/>
<rect x="1438.2" y="1401.4" width="44.6" height="16.7" fill="#2d2a80"/>
<rect x="1482.5" y="1401.4" width="53.5" height="16.7" fill="#23236e"/>
</g>
<text transform="translate(-4.23 1473.00) scale(0.9857 1)" font-size="50.28" fill="#111111" font-style="italic">0 mT</text>
<text transform="translate(311.35 1473.10) scale(0.9673 1)" font-size="50.72" fill="#111111" font-style="italic">44 mT</text>
<text transform="translate(623.16 1473.00) scale(0.9833 1)" font-size="50.28" fill="#111111" font-style="italic">82 mT</text>
<text transform="translate(936.16 1473.10) scale(0.9577 1)" font-size="50.72" fill="#111111" font-style="italic">44 mT</text>
<text transform="translate(1242.27 1473.00) scale(0.9848 1)" font-size="50.28" fill="#111111" font-style="italic">0 mT</text>
<text transform="translate(1262.80 1198.31) scale(1.0027 1)" font-size="48.73" fill="#fff" font-style="italic">0 mT</text>
<rect x="1390.1" y="1391.2" width="131.2" height="10.8" fill="#fff"/>
<rect x="447.2" y="1577.7" width="783.4" height="390.6" fill="none" stroke="#111111" stroke-width="4.4"/>
<path d="M525.7 1968.3v-16M682.4 1968.3v-16M839.0 1968.3v-16M995.7 1968.3v-16M1152.3 1968.3v-16M447.2 1805.1h14M447.2 1641.9h14" stroke="#111111" stroke-width="4.4" fill="none"/>
<text transform="translate(513.34 2033.03) scale(0.9519 1)" font-size="56.62" fill="#111111" >0</text>
<text transform="translate(649.13 2032.74) scale(0.9843 1)" font-size="56.20" fill="#111111" >20</text>
<text transform="translate(816.42 2033.04) scale(0.9921 1)" font-size="55.77" fill="#111111" >40</text>
<text transform="translate(967.92 2033.03) scale(0.9804 1)" font-size="56.62" fill="#111111" >60</text>
<text transform="translate(1120.81 2033.03) scale(0.9757 1)" font-size="56.62" fill="#111111" >80</text>
<text transform="translate(353.31 1668.34) scale(0.9774 1)" font-size="56.00" fill="#111111" >5.5</text>
<text transform="translate(353.30 1825.44) scale(0.9756 1)" font-size="56.34" fill="#111111" >5.0</text>
<text transform="translate(352.51 1981.84) scale(0.9869 1)" font-size="56.29" fill="#111111" >4.5</text>
<text transform="translate(762.75 2118.10) scale(1.0046 1)" font-size="54.78" fill="#111111" ><tspan font-style="italic">B</tspan> (mT)</text>
<text transform="translate(300.40 1998.00) rotate(-90) scale(0.9602 1)" font-size="57.25" fill="#111111" >PL counts (<tspan font-size="116%" dy="0.085em">×</tspan><tspan dy="-0.1em"> 10</tspan><tspan font-size="68%" dy="-0.415em">4</tspan><tspan dy="0.282em">)</tspan></text>
<text transform="translate(487.51 1652.80) scale(0.7009 1)" font-size="56.81" fill="#111111" stroke="#111111" stroke-width="0.8">E</text>
<polygon points="525.5,1818.1 503.1,1856.1 547.5,1856.1" fill="none" stroke="#d9261c" stroke-width="7.0" stroke-linejoin="round"/>
<polygon points="499.6,1856.8 551.0,1856.8 525.5,1900.6" fill="#111111"/>
<polygon points="854.6,1700.9 832.3,1738.8 876.6,1738.8" fill="none" stroke="#d9261c" stroke-width="7.0" stroke-linejoin="round"/>
<polygon points="829.0,1722.2 879.9,1722.2 854.6,1765.7" fill="#111111"/>
<polygon points="1152.3,1608.7 1129.7,1646.9 1174.4,1646.9" fill="none" stroke="#d9261c" stroke-width="7.0" stroke-linejoin="round"/>
<line x1="475.5" y1="1860.4" x2="1184" y2="1609.9" stroke="#d9261c" stroke-width="4.4" stroke-dasharray="18 14"/>
<line x1="961.0" y1="1719.9" x2="494" y2="1885.4" stroke="#111111" stroke-width="4.4" stroke-dasharray="18 14"/>
<polygon points="1208.8,1601.7 1177.9,1597.1 1187.3,1623.2" fill="#d9261c"/>
<polygon points="470.0,1893.4 490.9,1872.3 499.9,1897.5" fill="#111111"/>
</svg>
</body></html>
